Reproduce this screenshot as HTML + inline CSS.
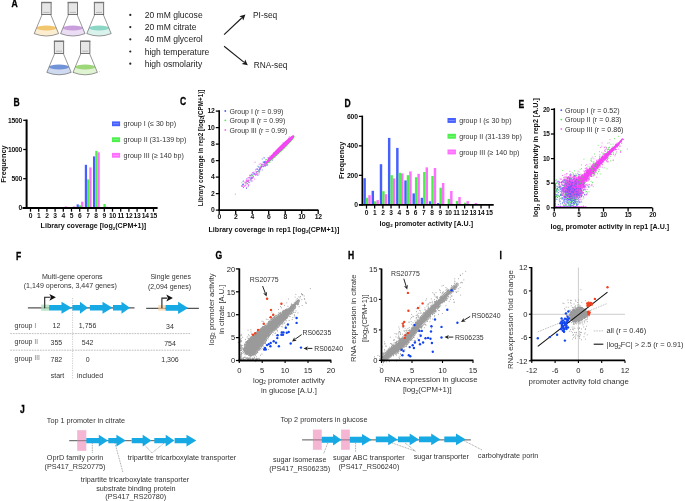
<!DOCTYPE html>
<html><head><meta charset="utf-8"><style>
html,body{margin:0;padding:0;background:#fff;}
svg{display:block;will-change:transform;}
text{font-family:"Liberation Sans",sans-serif;}
</style></head><body>
<svg width="685" height="501" viewBox="0 0 685 501">
<rect width="685" height="501" fill="#fff"/>
<text transform="translate(11.60,6.60) scale(0.84,1)" font-size="10.2" font-weight="bold" fill="#000" stroke="#000" stroke-width="0.3">A</text>
<path d="M36.49,28.10 L34.20,33.60 Q46.40,38.40 58.60,33.60 L56.31,28.10 Z" fill="#FCEDD0"/>
<ellipse cx="46.40" cy="28.10" rx="9.91" ry="2.5" fill="#F2C66E"/>
<path d="M42.10,14.60 L34.20,33.60 Q46.40,38.40 58.60,33.60 L50.70,14.60" fill="none" stroke="#444" stroke-width="0.55"/>
<rect x="41.70" y="2.40" width="9.40" height="12.20" fill="#E6E6E6" stroke="#555" stroke-width="0.8"/>
<rect x="41.30" y="1.80" width="10.20" height="1.4" fill="#777"/>
<line x1="43.40" y1="12.40" x2="49.40" y2="12.40" stroke="#888" stroke-width="0.5" />
<path d="M62.89,28.10 L60.60,33.60 Q72.80,38.40 85.00,33.60 L82.71,28.10 Z" fill="#EBDDF3"/>
<ellipse cx="72.80" cy="28.10" rx="9.91" ry="2.5" fill="#C89FDA"/>
<path d="M68.50,14.60 L60.60,33.60 Q72.80,38.40 85.00,33.60 L77.10,14.60" fill="none" stroke="#444" stroke-width="0.55"/>
<rect x="68.10" y="2.40" width="9.40" height="12.20" fill="#E6E6E6" stroke="#555" stroke-width="0.8"/>
<rect x="67.70" y="1.80" width="10.20" height="1.4" fill="#777"/>
<line x1="69.80" y1="12.40" x2="75.80" y2="12.40" stroke="#888" stroke-width="0.5" />
<path d="M89.09,28.10 L86.80,33.60 Q99.00,38.40 111.20,33.60 L108.91,28.10 Z" fill="#D9F2EC"/>
<ellipse cx="99.00" cy="28.10" rx="9.91" ry="2.5" fill="#8CD6C6"/>
<path d="M94.70,14.60 L86.80,33.60 Q99.00,38.40 111.20,33.60 L103.30,14.60" fill="none" stroke="#444" stroke-width="0.55"/>
<rect x="94.30" y="2.40" width="9.40" height="12.20" fill="#E6E6E6" stroke="#555" stroke-width="0.8"/>
<rect x="93.90" y="1.80" width="10.20" height="1.4" fill="#777"/>
<line x1="96.00" y1="12.40" x2="102.00" y2="12.40" stroke="#888" stroke-width="0.5" />
<path d="M49.09,66.90 L46.80,72.40 Q59.00,77.20 71.20,72.40 L68.91,66.90 Z" fill="#CFDAF1"/>
<ellipse cx="59.00" cy="66.90" rx="9.91" ry="2.5" fill="#7092D6"/>
<path d="M54.70,53.40 L46.80,72.40 Q59.00,77.20 71.20,72.40 L63.30,53.40" fill="none" stroke="#444" stroke-width="0.55"/>
<rect x="54.30" y="41.20" width="9.40" height="12.20" fill="#E6E6E6" stroke="#555" stroke-width="0.8"/>
<rect x="53.90" y="40.60" width="10.20" height="1.4" fill="#777"/>
<line x1="56.00" y1="51.20" x2="62.00" y2="51.20" stroke="#888" stroke-width="0.5" />
<path d="M75.29,66.90 L73.00,72.40 Q85.20,77.20 97.40,72.40 L95.11,66.90 Z" fill="#E0F3D3"/>
<ellipse cx="85.20" cy="66.90" rx="9.91" ry="2.5" fill="#9DD779"/>
<path d="M80.90,53.40 L73.00,72.40 Q85.20,77.20 97.40,72.40 L89.50,53.40" fill="none" stroke="#444" stroke-width="0.55"/>
<rect x="80.50" y="41.20" width="9.40" height="12.20" fill="#E6E6E6" stroke="#555" stroke-width="0.8"/>
<rect x="80.10" y="40.60" width="10.20" height="1.4" fill="#777"/>
<line x1="82.20" y1="51.20" x2="88.20" y2="51.20" stroke="#888" stroke-width="0.5" />
<circle cx="130.3" cy="14.90" r="1.1" fill="#222"/>
<text x="144.70" y="17.90" font-size="8.55" text-anchor="start" fill="#222" >20 mM glucose</text>
<circle cx="130.3" cy="27.10" r="1.1" fill="#222"/>
<text x="144.70" y="30.10" font-size="8.55" text-anchor="start" fill="#222" >20 mM citrate</text>
<circle cx="130.3" cy="39.30" r="1.1" fill="#222"/>
<text x="144.70" y="42.30" font-size="8.55" text-anchor="start" fill="#222" >40 mM glycerol</text>
<circle cx="130.3" cy="51.50" r="1.1" fill="#222"/>
<text x="144.70" y="54.50" font-size="8.55" text-anchor="start" fill="#222" >high temperature</text>
<circle cx="130.3" cy="63.70" r="1.1" fill="#222"/>
<text x="144.70" y="66.70" font-size="8.55" text-anchor="start" fill="#222" >high osmolarity</text>
<line x1="224.10" y1="34.60" x2="241.69" y2="18.00" stroke="#1a1a1a" stroke-width="1.15" />
<path d="M245.40,14.50 L243.25,20.38 L242.05,17.66 L239.41,16.31 Z" fill="#1a1a1a"/>
<line x1="224.10" y1="46.20" x2="243.83" y2="62.10" stroke="#1a1a1a" stroke-width="1.15" />
<path d="M247.80,65.30 L241.68,63.97 L244.22,62.41 L245.20,59.61 Z" fill="#1a1a1a"/>
<text x="253.00" y="18.30" font-size="8.4" text-anchor="start" fill="#222" >PI-seq</text>
<circle cx="99.4" cy="71.8" r="0.45" fill="#c9a"/>
<text x="253.80" y="67.50" font-size="8.3" text-anchor="start" fill="#222" >RNA-seq</text>
<text transform="translate(13.60,105.60) scale(0.84,1)" font-size="10.2" font-weight="bold" fill="#000" stroke="#000" stroke-width="0.3">B</text>
<rect x="64.70" y="206.44" width="2.25" height="1.46" fill="#FF6EFF" />
<rect x="68.40" y="207.61" width="2.25" height="0.29" fill="#465FFF" />
<rect x="72.90" y="206.44" width="2.25" height="1.46" fill="#FF6EFF" />
<rect x="76.60" y="204.40" width="2.25" height="3.50" fill="#465FFF" />
<rect x="78.85" y="205.33" width="2.25" height="2.57" fill="#4BF04B" />
<rect x="81.10" y="201.71" width="2.25" height="6.19" fill="#FF6EFF" />
<rect x="84.80" y="164.80" width="2.25" height="43.10" fill="#465FFF" />
<rect x="87.05" y="179.40" width="2.25" height="28.50" fill="#4BF04B" />
<rect x="89.30" y="167.43" width="2.25" height="40.47" fill="#FF6EFF" />
<rect x="93.00" y="156.39" width="2.25" height="51.51" fill="#465FFF" />
<rect x="95.25" y="150.90" width="2.25" height="57.00" fill="#4BF04B" />
<rect x="97.50" y="152.30" width="2.25" height="55.60" fill="#FF6EFF" />
<rect x="101.20" y="207.02" width="2.25" height="0.88" fill="#465FFF" />
<rect x="103.45" y="203.99" width="2.25" height="3.91" fill="#4BF04B" />
<rect x="105.70" y="206.73" width="2.25" height="1.17" fill="#FF6EFF" />
<line x1="26.60" y1="119.50" x2="26.60" y2="208.70" stroke="#000" stroke-width="2.0" />
<line x1="23.20" y1="207.90" x2="26.60" y2="207.90" stroke="#000" stroke-width="1.25" />
<text x="22.00" y="210.10" font-size="6.7" text-anchor="end" fill="#111" font-weight="bold" letter-spacing="-0.25">0</text>
<line x1="23.20" y1="178.70" x2="26.60" y2="178.70" stroke="#000" stroke-width="1.25" />
<text x="22.00" y="180.90" font-size="6.7" text-anchor="end" fill="#111" font-weight="bold" letter-spacing="-0.25">500</text>
<line x1="23.20" y1="149.50" x2="26.60" y2="149.50" stroke="#000" stroke-width="1.25" />
<text x="22.00" y="151.70" font-size="6.7" text-anchor="end" fill="#111" font-weight="bold" letter-spacing="-0.25">1000</text>
<line x1="23.20" y1="120.30" x2="26.60" y2="120.30" stroke="#000" stroke-width="1.25" />
<text x="22.00" y="122.50" font-size="6.7" text-anchor="end" fill="#111" font-weight="bold" letter-spacing="-0.25">1500</text>
<line x1="22.50" y1="207.90" x2="157.60" y2="207.90" stroke="#000" stroke-width="2.0" />
<line x1="30.50" y1="207.90" x2="30.50" y2="211.70" stroke="#000" stroke-width="1.25" />
<text x="30.50" y="217.90" font-size="6.7" text-anchor="middle" fill="#111" font-weight="bold" letter-spacing="-0.25">0</text>
<line x1="38.70" y1="207.90" x2="38.70" y2="211.70" stroke="#000" stroke-width="1.25" />
<text x="38.70" y="217.90" font-size="6.7" text-anchor="middle" fill="#111" font-weight="bold" letter-spacing="-0.25">1</text>
<line x1="46.90" y1="207.90" x2="46.90" y2="211.70" stroke="#000" stroke-width="1.25" />
<text x="46.90" y="217.90" font-size="6.7" text-anchor="middle" fill="#111" font-weight="bold" letter-spacing="-0.25">2</text>
<line x1="55.10" y1="207.90" x2="55.10" y2="211.70" stroke="#000" stroke-width="1.25" />
<text x="55.10" y="217.90" font-size="6.7" text-anchor="middle" fill="#111" font-weight="bold" letter-spacing="-0.25">3</text>
<line x1="63.30" y1="207.90" x2="63.30" y2="211.70" stroke="#000" stroke-width="1.25" />
<text x="63.30" y="217.90" font-size="6.7" text-anchor="middle" fill="#111" font-weight="bold" letter-spacing="-0.25">4</text>
<line x1="71.50" y1="207.90" x2="71.50" y2="211.70" stroke="#000" stroke-width="1.25" />
<text x="71.50" y="217.90" font-size="6.7" text-anchor="middle" fill="#111" font-weight="bold" letter-spacing="-0.25">5</text>
<line x1="79.70" y1="207.90" x2="79.70" y2="211.70" stroke="#000" stroke-width="1.25" />
<text x="79.70" y="217.90" font-size="6.7" text-anchor="middle" fill="#111" font-weight="bold" letter-spacing="-0.25">6</text>
<line x1="87.90" y1="207.90" x2="87.90" y2="211.70" stroke="#000" stroke-width="1.25" />
<text x="87.90" y="217.90" font-size="6.7" text-anchor="middle" fill="#111" font-weight="bold" letter-spacing="-0.25">7</text>
<line x1="96.10" y1="207.90" x2="96.10" y2="211.70" stroke="#000" stroke-width="1.25" />
<text x="96.10" y="217.90" font-size="6.7" text-anchor="middle" fill="#111" font-weight="bold" letter-spacing="-0.25">8</text>
<line x1="104.30" y1="207.90" x2="104.30" y2="211.70" stroke="#000" stroke-width="1.25" />
<text x="104.30" y="217.90" font-size="6.7" text-anchor="middle" fill="#111" font-weight="bold" letter-spacing="-0.25">9</text>
<line x1="112.50" y1="207.90" x2="112.50" y2="211.70" stroke="#000" stroke-width="1.25" />
<text x="112.50" y="217.90" font-size="6.7" text-anchor="middle" fill="#111" font-weight="bold" letter-spacing="-0.25">10</text>
<line x1="120.70" y1="207.90" x2="120.70" y2="211.70" stroke="#000" stroke-width="1.25" />
<text x="120.70" y="217.90" font-size="6.7" text-anchor="middle" fill="#111" font-weight="bold" letter-spacing="-0.25">11</text>
<line x1="128.90" y1="207.90" x2="128.90" y2="211.70" stroke="#000" stroke-width="1.25" />
<text x="128.90" y="217.90" font-size="6.7" text-anchor="middle" fill="#111" font-weight="bold" letter-spacing="-0.25">12</text>
<line x1="137.10" y1="207.90" x2="137.10" y2="211.70" stroke="#000" stroke-width="1.25" />
<text x="137.10" y="217.90" font-size="6.7" text-anchor="middle" fill="#111" font-weight="bold" letter-spacing="-0.25">13</text>
<line x1="145.30" y1="207.90" x2="145.30" y2="211.70" stroke="#000" stroke-width="1.25" />
<text x="145.30" y="217.90" font-size="6.7" text-anchor="middle" fill="#111" font-weight="bold" letter-spacing="-0.25">14</text>
<line x1="153.50" y1="207.90" x2="153.50" y2="211.70" stroke="#000" stroke-width="1.25" />
<text x="153.50" y="217.90" font-size="6.7" text-anchor="middle" fill="#111" font-weight="bold" letter-spacing="-0.25">15</text>
<text transform="translate(3.60,164.00) rotate(-90)" x="0" y="2.59" font-size="7.4" text-anchor="middle" fill="#111" font-weight="bold">Frequency</text>
<text x="93.4" y="228.3" font-size="7.1" font-weight="bold" text-anchor="middle" fill="#111">Library coverage [log<tspan font-size="62%" dy="1.8">2</tspan><tspan dy="-1.8">(CPM+1)]</tspan></text>
<rect x="112.00" y="121.40" width="8.10" height="4.80" fill="#465FFF" />
<rect x="113.20" y="123.40" width="5.70" height="0.80" fill="#fff" opacity="0.35"/>
<text x="123.60" y="126.30" font-size="7.1" text-anchor="start" fill="#333" >group I (&#8804; 30 bp)</text>
<rect x="112.00" y="137.30" width="8.10" height="4.80" fill="#4BF04B" />
<rect x="113.20" y="139.30" width="5.70" height="0.80" fill="#fff" opacity="0.35"/>
<text x="123.60" y="142.20" font-size="7.1" text-anchor="start" fill="#333" >group II (31-139 bp)</text>
<rect x="112.00" y="152.90" width="8.10" height="4.80" fill="#FF6EFF" />
<rect x="113.20" y="154.90" width="5.70" height="0.80" fill="#fff" opacity="0.35"/>
<text x="123.60" y="157.80" font-size="7.1" text-anchor="start" fill="#333" >group III (&#8805; 140 bp)</text>
<text transform="translate(179.90,105.30) scale(0.84,1)" font-size="10.2" font-weight="bold" fill="#000" stroke="#000" stroke-width="0.3">C</text>
<path transform="scale(.1)" d="M2604 1687h1m40-108h1m-6 60h1m-151 165h1m19-19h1m147-187h1m-241 264h1m231-242h1m-2 9h1m-81 119h1m-69 24h1m-1 17h1m6 19h1m30-74h1m25-11h1m17-11h1m131-129h1m-75 42h1m-44 66h1m124-89h1m-256 186h1m3 47h1m126-140h1m-173 154h1m36 36h1" stroke="#4A63F5" stroke-width="8.4" stroke-linecap="round" fill="none" opacity="1.0"/>
<path transform="scale(.1)" d="M2682 1591h1m15 33h1m-107 90h1m-128 114h1m30-5h1m186-225h1m-91 126h1m-118 94h1m211-196h1m-98 46h1m-1 42h1m-79 30h1" stroke="#45E845" stroke-width="8.4" stroke-linecap="round" fill="none" opacity="1.0"/>
<path transform="scale(.1)" d="M2462 1819h1m227-219h1m-277 258h1m213-213h1m7-25h1m-153 227h1m55-100h1m131-100h1m-246 219h1m166-186h1m51-43h1m-80 78h1m63-54h1m-149 139h1m-7 9h1m37-62h1m-49 61h1m78-17h1m139-203h1m-118 103h1m-41 85h1m-7 34h1m155-234h1m-129 163h1m149-160h1m-149 120h1m33 30h1m92-118h1m-36 45h1m-70 37h1" stroke="#F545F5" stroke-width="8.4" stroke-linecap="round" fill="none" opacity="1.0"/>
<path transform="scale(.1)" d="M2574 1691h1m-143 159h1m209-224h1m41-45h1m-17 45h1m-237 219h1m93-68h1m-8 6h1m-39 80h1m104-192h1m81-20h1m-154 127h1m157-157h1m-44 0h1m-175 206h1m194-169h1m29-44h1m-206 200h1m107-113h1m37-1h1m-30-6h1m-164 120h1m180-144h1m-34-8h1m43-72h1" stroke="#4A63F5" stroke-width="8.4" stroke-linecap="round" fill="none" opacity="1.0"/>
<path transform="scale(.1)" d="M2617 1668h1m-91 90h1m-110 70h1m172-88h1m59-76h1m-156 163h1m14-25h1m67-85h1m60-60h1m33-49h1m-219 223h1m24-14h1" stroke="#45E845" stroke-width="8.4" stroke-linecap="round" fill="none" opacity="1.0"/>
<path transform="scale(.1)" d="M2691 1608h1m-157 157h1m-50 90h1m150-207h1m67-72h1m-248 234h1m171-145h1m46-14h1m18-35h1m-251 206h1m-9 11h1m258-255h1m-237 262h1m5-24h1m128-109h1m-37 38h1m79-96h1m-165 165h1m215-205h1m-209 197h1m165-152h1m-186 220h1m96-133h1m-136 120h1m67-103h1m21 27h1m89-148h1m-68 84h1m-98 144h1m272-273h1" stroke="#F545F5" stroke-width="8.4" stroke-linecap="round" fill="none" opacity="1.0"/>
<path transform="scale(.1)" d="M2668 1652h1m-158 141h1m129-168h1m-27 36h1m-13 17h1m93-83h1m-153 143h1m-17 2h1m89-74h1m24-50h1m-139 141h1m104-81h1m-125 145h1m74-130h1m87-43h1m-224 195h1m188-196h1m-182 229h1m252-289h1m-110 167h1m-52-12h1m104-75h1m-60 49h1m46-67h1m-165 204h1" stroke="#4A63F5" stroke-width="8.4" stroke-linecap="round" fill="none" opacity="1.0"/>
<path transform="scale(.1)" d="M2696 1562h1m-190 193h1m26-31h1m-1 48h1m62-59h1m92-129h1m-26 11h1m-140 162h1m-13 54h1m119-233h1m-64 156h1m35-76h1" stroke="#45E845" stroke-width="8.4" stroke-linecap="round" fill="none" opacity="1.0"/>
<path transform="scale(.1)" d="M2602 1687h1m-100 110h1m54-67h1m0-17h1m42-30h1m-140 116h1m228-210h1m-196 190h1m20 4h1m-39-2h1m-34 73h1m106-104h1m96-105h1m-30 14h1m-137 162h1m-51-12h1m82-26h1m130-132h1m-82 82h1m125-125h1m-88 64h1m-13 15h1m56-30h1m-6 2h1m-122 114h1m-46 3h1m75-25h1m19-7h1m-101 98h1m70-96h1" stroke="#F545F5" stroke-width="8.4" stroke-linecap="round" fill="none" opacity="1.0"/>
<path transform="scale(.1)" d="M2592 1642h1m-66 83h1m-56 77h1m77-180h1m-52 128h1m-8 26h1m109-106h1m-5 33h1m-87 70h1m-4-21h1m110-111h1m-105 118h1" stroke="#F545F5" stroke-width="9.0" stroke-linecap="round" fill="none" opacity="1.0"/>
<path transform="scale(.1)" d="M2353 1942h1" stroke="#45E845" stroke-width="10.0" stroke-linecap="round" fill="none" opacity="1.0"/>
<path d="M265.54,164.04 L269.05,160.95 L273.46,157.11 L277.87,153.27 L282.96,148.46 L287.09,144.34 L291.07,140.07 L293.60,136.83 L293.79,135.37 L294.57,136.14 L294.38,137.61 L291.85,140.85 L287.86,145.11 L283.74,149.24 L278.65,154.05 L274.24,157.89 L269.83,161.73 L266.32,164.82 Z" fill="#45E845"/>
<path d="M264.76,163.26 L267.64,159.54 L271.34,154.99 L275.25,150.65 L280.20,145.70 L284.47,141.72 L288.88,137.88 L292.19,135.41 L293.65,135.23 L294.15,135.72 L293.96,137.18 L291.42,140.42 L287.44,144.69 L283.31,148.81 L278.22,153.62 L273.81,157.46 L269.41,161.31 L265.89,164.39 Z" fill="#F545F5"/>
<path transform="scale(.1)" d="M2722 1553h1m97-74h1m-42 54h1m109-112h1m-170 141h1m127-125h1m-25 42h1m16-40h1m-106 93h1m101-87h1m-6 9h1m-94 76h1m-105 93h1m255-254h1m-54 83h1m-150 128h1m147-139h1m-122 126h1m54-49h1m99-113h1m-108 118h1m-54 34h1m8-1h1m-68 57h1m53-23h1m5-23h1m-33 22h1m-28 33h1m109-109h1m-63 75h1m126-159h1m53-46h1m-173 181h1m100-61h1m-29 7h1m-126 110h1m18-8h1m215-197h1m-129 96h1m88-91h1" stroke="#F545F5" stroke-width="10.0" stroke-linecap="round" fill="none" opacity="1.0"/>
<line x1="219.20" y1="110.20" x2="219.20" y2="210.90" stroke="#000" stroke-width="1.6" />
<line x1="215.80" y1="210.10" x2="219.20" y2="210.10" stroke="#000" stroke-width="1.25" />
<text x="214.60" y="212.30" font-size="6.8" text-anchor="end" fill="#111" font-weight="bold" letter-spacing="-0.25">0</text>
<line x1="215.80" y1="193.60" x2="219.20" y2="193.60" stroke="#000" stroke-width="1.25" />
<text x="214.60" y="195.80" font-size="6.8" text-anchor="end" fill="#111" font-weight="bold" letter-spacing="-0.25">2</text>
<line x1="215.80" y1="177.10" x2="219.20" y2="177.10" stroke="#000" stroke-width="1.25" />
<text x="214.60" y="179.30" font-size="6.8" text-anchor="end" fill="#111" font-weight="bold" letter-spacing="-0.25">4</text>
<line x1="215.80" y1="160.60" x2="219.20" y2="160.60" stroke="#000" stroke-width="1.25" />
<text x="214.60" y="162.80" font-size="6.8" text-anchor="end" fill="#111" font-weight="bold" letter-spacing="-0.25">6</text>
<line x1="215.80" y1="144.10" x2="219.20" y2="144.10" stroke="#000" stroke-width="1.25" />
<text x="214.60" y="146.30" font-size="6.8" text-anchor="end" fill="#111" font-weight="bold" letter-spacing="-0.25">8</text>
<line x1="215.80" y1="127.60" x2="219.20" y2="127.60" stroke="#000" stroke-width="1.25" />
<text x="214.60" y="129.80" font-size="6.8" text-anchor="end" fill="#111" font-weight="bold" letter-spacing="-0.25">10</text>
<line x1="215.80" y1="111.10" x2="219.20" y2="111.10" stroke="#000" stroke-width="1.25" />
<text x="214.60" y="113.30" font-size="6.8" text-anchor="end" fill="#111" font-weight="bold" letter-spacing="-0.25">12</text>
<line x1="218.40" y1="210.10" x2="318.40" y2="210.10" stroke="#000" stroke-width="1.6" />
<line x1="219.20" y1="210.10" x2="219.20" y2="213.90" stroke="#000" stroke-width="1.25" />
<text x="219.20" y="219.20" font-size="6.8" text-anchor="middle" fill="#111" font-weight="bold" letter-spacing="-0.25">0</text>
<line x1="235.70" y1="210.10" x2="235.70" y2="213.90" stroke="#000" stroke-width="1.25" />
<text x="235.70" y="219.20" font-size="6.8" text-anchor="middle" fill="#111" font-weight="bold" letter-spacing="-0.25">2</text>
<line x1="252.20" y1="210.10" x2="252.20" y2="213.90" stroke="#000" stroke-width="1.25" />
<text x="252.20" y="219.20" font-size="6.8" text-anchor="middle" fill="#111" font-weight="bold" letter-spacing="-0.25">4</text>
<line x1="268.70" y1="210.10" x2="268.70" y2="213.90" stroke="#000" stroke-width="1.25" />
<text x="268.70" y="219.20" font-size="6.8" text-anchor="middle" fill="#111" font-weight="bold" letter-spacing="-0.25">6</text>
<line x1="285.20" y1="210.10" x2="285.20" y2="213.90" stroke="#000" stroke-width="1.25" />
<text x="285.20" y="219.20" font-size="6.8" text-anchor="middle" fill="#111" font-weight="bold" letter-spacing="-0.25">8</text>
<line x1="301.70" y1="210.10" x2="301.70" y2="213.90" stroke="#000" stroke-width="1.25" />
<text x="301.70" y="219.20" font-size="6.8" text-anchor="middle" fill="#111" font-weight="bold" letter-spacing="-0.25">10</text>
<line x1="318.20" y1="210.10" x2="318.20" y2="213.90" stroke="#000" stroke-width="1.25" />
<text x="318.20" y="219.20" font-size="6.8" text-anchor="middle" fill="#111" font-weight="bold" letter-spacing="-0.25">12</text>
<text x="273.9" y="231.5" font-size="7.1" font-weight="bold" text-anchor="middle" fill="#111">Library coverage in rep1 [log<tspan font-size="62%" dy="1.8">2</tspan><tspan dy="-1.8">(CPM+1)]</tspan></text>
<text transform="translate(199.9,147.9) rotate(-90)" x="0" y="2.6" font-size="7.5" font-weight="bold" text-anchor="middle" fill="#111" textLength="116.8" lengthAdjust="spacingAndGlyphs">Library coverage in rep2 [log<tspan font-size="62%" dy="1.8">2</tspan><tspan dy="-1.8">(CPM+1)]</tspan></text>
<circle cx="225.3" cy="111.00" r="0.9" fill="#465FFF"/>
<text x="229.5" y="113.50" font-size="7.0" fill="#333">Group I (r = 0.99)</text>
<circle cx="225.3" cy="120.30" r="0.9" fill="#4BF04B"/>
<text x="229.5" y="122.80" font-size="7.0" fill="#333">Group II (r = 0.99)</text>
<circle cx="225.3" cy="130.00" r="0.9" fill="#FF6EFF"/>
<text x="229.5" y="132.50" font-size="7.0" fill="#333">Group III (r = 0.99)</text>
<text transform="translate(344.60,106.60) scale(0.84,1)" font-size="10.2" font-weight="bold" fill="#000" stroke="#000" stroke-width="0.3">D</text>
<rect x="363.40" y="178.20" width="2.45" height="26.60" fill="#465FFF" />
<rect x="365.85" y="197.80" width="2.45" height="7.00" fill="#4BF04B" />
<rect x="368.30" y="195.20" width="2.45" height="9.60" fill="#FF6EFF" />
<rect x="371.58" y="190.80" width="2.45" height="14.00" fill="#465FFF" />
<rect x="374.03" y="201.30" width="2.45" height="3.50" fill="#4BF04B" />
<rect x="376.48" y="200.10" width="2.45" height="4.70" fill="#FF6EFF" />
<rect x="379.76" y="164.20" width="2.45" height="40.60" fill="#465FFF" />
<rect x="382.21" y="191.20" width="2.45" height="13.60" fill="#4BF04B" />
<rect x="384.66" y="194.20" width="2.45" height="10.60" fill="#FF6EFF" />
<rect x="387.94" y="137.90" width="2.45" height="66.90" fill="#465FFF" />
<rect x="390.39" y="175.20" width="2.45" height="29.60" fill="#4BF04B" />
<rect x="392.84" y="178.40" width="2.45" height="26.40" fill="#FF6EFF" />
<rect x="396.12" y="147.90" width="2.45" height="56.90" fill="#465FFF" />
<rect x="398.57" y="172.80" width="2.45" height="32.00" fill="#4BF04B" />
<rect x="401.02" y="173.40" width="2.45" height="31.40" fill="#FF6EFF" />
<rect x="404.30" y="180.40" width="2.45" height="24.40" fill="#465FFF" />
<rect x="406.75" y="175.20" width="2.45" height="29.60" fill="#4BF04B" />
<rect x="409.20" y="171.40" width="2.45" height="33.40" fill="#FF6EFF" />
<rect x="412.48" y="193.40" width="2.45" height="11.40" fill="#465FFF" />
<rect x="414.93" y="177.20" width="2.45" height="27.60" fill="#4BF04B" />
<rect x="417.38" y="173.80" width="2.45" height="31.00" fill="#FF6EFF" />
<rect x="420.66" y="197.80" width="2.45" height="7.00" fill="#465FFF" />
<rect x="423.11" y="172.00" width="2.45" height="32.80" fill="#4BF04B" />
<rect x="425.56" y="167.40" width="2.45" height="37.40" fill="#FF6EFF" />
<rect x="428.84" y="201.30" width="2.45" height="3.50" fill="#465FFF" />
<rect x="431.29" y="176.00" width="2.45" height="28.80" fill="#4BF04B" />
<rect x="433.74" y="168.00" width="2.45" height="36.80" fill="#FF6EFF" />
<rect x="437.02" y="203.00" width="2.45" height="1.80" fill="#465FFF" />
<rect x="439.47" y="187.70" width="2.45" height="17.10" fill="#4BF04B" />
<rect x="441.92" y="183.00" width="2.45" height="21.80" fill="#FF6EFF" />
<rect x="447.65" y="198.90" width="2.45" height="5.90" fill="#4BF04B" />
<rect x="450.10" y="191.00" width="2.45" height="13.80" fill="#FF6EFF" />
<rect x="455.83" y="200.90" width="2.45" height="3.90" fill="#4BF04B" />
<rect x="458.28" y="197.00" width="2.45" height="7.80" fill="#FF6EFF" />
<rect x="464.01" y="202.70" width="2.45" height="2.10" fill="#4BF04B" />
<rect x="466.46" y="201.10" width="2.45" height="3.70" fill="#FF6EFF" />
<rect x="474.64" y="203.00" width="2.45" height="1.80" fill="#FF6EFF" />
<line x1="362.30" y1="115.60" x2="362.30" y2="205.60" stroke="#000" stroke-width="1.6" />
<line x1="358.90" y1="204.80" x2="362.30" y2="204.80" stroke="#000" stroke-width="1.25" />
<text x="357.70" y="207.00" font-size="6.8" text-anchor="end" fill="#111" font-weight="bold" letter-spacing="-0.25">0</text>
<line x1="358.90" y1="175.33" x2="362.30" y2="175.33" stroke="#000" stroke-width="1.25" />
<text x="357.70" y="177.53" font-size="6.8" text-anchor="end" fill="#111" font-weight="bold" letter-spacing="-0.25">200</text>
<line x1="358.90" y1="145.87" x2="362.30" y2="145.87" stroke="#000" stroke-width="1.25" />
<text x="357.70" y="148.07" font-size="6.8" text-anchor="end" fill="#111" font-weight="bold" letter-spacing="-0.25">400</text>
<line x1="358.90" y1="116.40" x2="362.30" y2="116.40" stroke="#000" stroke-width="1.25" />
<text x="357.70" y="118.60" font-size="6.8" text-anchor="end" fill="#111" font-weight="bold" letter-spacing="-0.25">600</text>
<line x1="359.00" y1="204.80" x2="493.70" y2="204.80" stroke="#000" stroke-width="1.8" />
<line x1="366.50" y1="204.80" x2="366.50" y2="208.60" stroke="#000" stroke-width="1.25" />
<text x="366.50" y="215.00" font-size="6.6" text-anchor="middle" fill="#111" font-weight="bold" letter-spacing="-0.25">0</text>
<line x1="374.68" y1="204.80" x2="374.68" y2="208.60" stroke="#000" stroke-width="1.25" />
<text x="374.68" y="215.00" font-size="6.6" text-anchor="middle" fill="#111" font-weight="bold" letter-spacing="-0.25">1</text>
<line x1="382.86" y1="204.80" x2="382.86" y2="208.60" stroke="#000" stroke-width="1.25" />
<text x="382.86" y="215.00" font-size="6.6" text-anchor="middle" fill="#111" font-weight="bold" letter-spacing="-0.25">2</text>
<line x1="391.04" y1="204.80" x2="391.04" y2="208.60" stroke="#000" stroke-width="1.25" />
<text x="391.04" y="215.00" font-size="6.6" text-anchor="middle" fill="#111" font-weight="bold" letter-spacing="-0.25">3</text>
<line x1="399.22" y1="204.80" x2="399.22" y2="208.60" stroke="#000" stroke-width="1.25" />
<text x="399.22" y="215.00" font-size="6.6" text-anchor="middle" fill="#111" font-weight="bold" letter-spacing="-0.25">4</text>
<line x1="407.40" y1="204.80" x2="407.40" y2="208.60" stroke="#000" stroke-width="1.25" />
<text x="407.40" y="215.00" font-size="6.6" text-anchor="middle" fill="#111" font-weight="bold" letter-spacing="-0.25">5</text>
<line x1="415.58" y1="204.80" x2="415.58" y2="208.60" stroke="#000" stroke-width="1.25" />
<text x="415.58" y="215.00" font-size="6.6" text-anchor="middle" fill="#111" font-weight="bold" letter-spacing="-0.25">6</text>
<line x1="423.76" y1="204.80" x2="423.76" y2="208.60" stroke="#000" stroke-width="1.25" />
<text x="423.76" y="215.00" font-size="6.6" text-anchor="middle" fill="#111" font-weight="bold" letter-spacing="-0.25">7</text>
<line x1="431.94" y1="204.80" x2="431.94" y2="208.60" stroke="#000" stroke-width="1.25" />
<text x="431.94" y="215.00" font-size="6.6" text-anchor="middle" fill="#111" font-weight="bold" letter-spacing="-0.25">8</text>
<line x1="440.12" y1="204.80" x2="440.12" y2="208.60" stroke="#000" stroke-width="1.25" />
<text x="440.12" y="215.00" font-size="6.6" text-anchor="middle" fill="#111" font-weight="bold" letter-spacing="-0.25">9</text>
<line x1="448.30" y1="204.80" x2="448.30" y2="208.60" stroke="#000" stroke-width="1.25" />
<text x="448.30" y="215.00" font-size="6.6" text-anchor="middle" fill="#111" font-weight="bold" letter-spacing="-0.25">10</text>
<line x1="456.48" y1="204.80" x2="456.48" y2="208.60" stroke="#000" stroke-width="1.25" />
<text x="456.48" y="215.00" font-size="6.6" text-anchor="middle" fill="#111" font-weight="bold" letter-spacing="-0.25">11</text>
<line x1="464.66" y1="204.80" x2="464.66" y2="208.60" stroke="#000" stroke-width="1.25" />
<text x="464.66" y="215.00" font-size="6.6" text-anchor="middle" fill="#111" font-weight="bold" letter-spacing="-0.25">12</text>
<line x1="472.84" y1="204.80" x2="472.84" y2="208.60" stroke="#000" stroke-width="1.25" />
<text x="472.84" y="215.00" font-size="6.6" text-anchor="middle" fill="#111" font-weight="bold" letter-spacing="-0.25">13</text>
<line x1="481.02" y1="204.80" x2="481.02" y2="208.60" stroke="#000" stroke-width="1.25" />
<text x="481.02" y="215.00" font-size="6.6" text-anchor="middle" fill="#111" font-weight="bold" letter-spacing="-0.25">14</text>
<line x1="489.20" y1="204.80" x2="489.20" y2="208.60" stroke="#000" stroke-width="1.25" />
<text x="489.20" y="215.00" font-size="6.6" text-anchor="middle" fill="#111" font-weight="bold" letter-spacing="-0.25">15</text>
<text transform="translate(341.40,160.30) rotate(-90)" x="0" y="2.59" font-size="7.4" text-anchor="middle" fill="#111" font-weight="bold">Frequency</text>
<text x="426.3" y="225.6" font-size="7.1" font-weight="bold" text-anchor="middle" fill="#111">log<tspan font-size="62%" dy="1.8">2</tspan><tspan dy="-1.8"> promoter activity [A.U.]</tspan></text>
<rect x="447.50" y="118.00" width="8.40" height="4.90" fill="#465FFF" />
<rect x="448.70" y="120.05" width="6.00" height="0.80" fill="#fff" opacity="0.35"/>
<text x="459.20" y="123.00" font-size="7.1" text-anchor="start" fill="#333" >group I (&#8804; 30 bp)</text>
<rect x="447.50" y="133.80" width="8.40" height="4.90" fill="#4BF04B" />
<rect x="448.70" y="135.85" width="6.00" height="0.80" fill="#fff" opacity="0.35"/>
<text x="459.20" y="138.80" font-size="7.1" text-anchor="start" fill="#333" >group II (31-139 bp)</text>
<rect x="447.50" y="149.50" width="8.40" height="4.90" fill="#FF6EFF" />
<rect x="448.70" y="151.55" width="6.00" height="0.80" fill="#fff" opacity="0.35"/>
<text x="459.20" y="154.50" font-size="7.1" text-anchor="start" fill="#333" >group III (&#8805; 140 bp)</text>
<text transform="translate(518.60,107.80) scale(0.84,1)" font-size="10.2" font-weight="bold" fill="#000" stroke="#000" stroke-width="0.3">E</text>
<path transform="scale(.1)" d="M5776 1918h1m-40-23h1m9 32h1m-65-21h1m130 59h1m-12-42h1m-63-157h1m5 139h1m-147 10h1m143-46h1m-46-10h1m33 108h1m12-54h1m-56-66h1m-74 38h1m110 9h1m-61-85h1m21 132h1m-15-45h1m13 36h1m-108-119h1m190 203h1m-53-76h1m45-8h1m46-70h1m-106 3h1m-100-46h1m48 175h1m-18-137h1m37 61h1m31 22h1m-114-71h1m126 86h1m-101 69h1m96-101h1m-23 66h1m-12-50h1m12-60h1m-26 3h1m-5-75h1m-59 106h1m89 78h1m100-45h1m6 9h1m-36 18h1m-35-98h1m-75 64h1m113 79h1m-82-158h1m-1 47h1" stroke="#4A63F5" stroke-width="8.4" stroke-linecap="round" fill="none" opacity="1.0"/>
<path transform="scale(.1)" d="M5748 1947h1m-17-30h1m32 103h1m-39-41h1m76-66h1m-53-36h1m-3 21h1m0 102h1m-120-84h1m82-81h1m-8 16h1m29 40h1m-101 52h1m191-97h1m-99 77h1m-85 38h1m-33-24h1m90-144h1m11 79h1m-41-60h1m51 105h1m-48-91h1m75 99h1m-82-29h1m43-169h1m64 110h1m101 81h1m-230-26h1m33-27h1m-25-56h1m103 108h1m-124 80h1m41-93h1m28-19h1m-62-6h1" stroke="#45E845" stroke-width="8.4" stroke-linecap="round" fill="none" opacity="1.0"/>
<path transform="scale(.1)" d="M5798 1889h1m-53-4h1m25-13h1m-100 51h1m101-100h1m62 74h1m-69-45h1m-28 67h1m-6-61h1m83-2h1m-141 42h1m41-126h1m29 85h1m13-73h1m-62 43h1m38 83h1m-31-14h1m19-42h1m-14 19h1m-53 1h1m57 17h1m45 79h1m-96-82h1m37 103h1m45-134h1m-90 57h1m63-1h1m-65-25h1m113-26h1m59 88h1m-16 17h1m-116-36h1m48 51h1m-33-56h1m-2-132h1m74 137h1m-149-88h1m121 104h1m-58-86h1m75 32h1m-64-14h1m-46-32h1m48-61h1m23 80h1m-37 4h1m22 57h1m-53-81h1m-84 43h1m155-56h1m-11 46h1m-29-93h1m-6 193h1m49-87h1m-78-61h1m-14 63h1m26 23h1m70-27h1m-134 58h1m133-78h1m-96-120h1m-25 67h1m121 117h1m-71-13h1m-63-24h1m47-73h1m66 95h1m13-7h1m-85-81h1m42 1h1m15 64h1m-71 38h1m50 22h1m-21-44h1m-27 80h1m2-154h1m27 71h1m-2-58h1m-32-71h1m6 36h1m78 120h1m-47-105h1m34-15h1m15 99h1m-33 11h1m86-44h1m-161 77h1m84-159h1m-59 201h1m111-68h1m-9-43h1m-190-2h1m50-20h1m83-6h1m6 25h1m-4-69h1m-43 169h1m26-111h1m10 37h1m-39-44h1m56-4h1m-171 58h1m149-14h1m-87-74h1m101 23h1m-62 53h1m-35-140h1m64-14h1m-67 195h1m-1-91h1m-35-114h1m79 89h1m26 29h1m26 22h1m-61 17h1m60-17h1m-54 18h1m-7-67h1m34 59h1m24 2h1m-74 39h1" stroke="#F545F5" stroke-width="8.4" stroke-linecap="round" fill="none" opacity="1.0"/>
<path transform="scale(.1)" d="M5708 1930h1m-47 19h1m37 49h1m66-42h1m-38-87h1m7 29h1m-9 63h1m-18-38h1m-11-24h1m-10-28h1m56 65h1m-100-20h1m130 92h1m-72-39h1m-43-164h1m13 225h1m-11-109h1m44-33h1m-49 35h1m100 26h1m-105-45h1m-82-3h1m83 5h1m-70 106h1m105-102h1m59 41h1m-24-18h1m-108-46h1m30-24h1m137-15h1m-80 82h1m-18-84h1m55-14h1m75 2h1m-64-15h1m-63 90h1m10 2h1m14-59h1m-68 130h1m-25-93h1m59 43h1m-55-9h1m47 81h1m7-51h1m121-51h1m-174-54h1m39-6h1m-4 64h1m32 6h1m32 38h1" stroke="#4A63F5" stroke-width="8.4" stroke-linecap="round" fill="none" opacity="1.0"/>
<path transform="scale(.1)" d="M5751 1818h1m-43 46h1m54 179h1m72-114h1m-115-14h1m-95 34h1m40-76h1m-39-63h1m15 107h1m160 42h1m-70-203h1m-113 159h1m138 50h1m38-94h1m-105-12h1m-21 72h1m20-95h1m39 81h1m22 28h1m34-70h1m1-38h1m-3 90h1m10-62h1m-46 27h1m-141-187h1m89 226h1m27-133h1m-45 91h1m81 5h1m-82-54h1m-37-11h1m150-24h1m-50 60h1m-30 60h1m44-4h1" stroke="#45E845" stroke-width="8.4" stroke-linecap="round" fill="none" opacity="1.0"/>
<path transform="scale(.1)" d="M5756 1990h1m3-26h1m41-92h1m-51 55h1m32-42h1m22-3h1m-71-105h1m-86 32h1m15 70h1m-14-65h1m155 103h1m-127-23h1m107-65h1m-35 111h1m58-49h1m-38 54h1m-58-75h1m-6-78h1m13 123h1m4-50h1m-37 58h1m24 13h1m84 4h1m-172-139h1m100-47h1m-61 97h1m56 62h1m32-73h1m-47 54h1m42-59h1m-123 26h1m138 1h1m-89-17h1m62 61h1m-24-9h1m-144 68h1m94-66h1m49 51h1m68-66h1m-66 42h1m-3-55h1m-87-18h1m146 97h1m18-32h1m-93 7h1m-13-87h1m-74-50h1m129 44h1m93 62h1m-104-93h1m27 153h1m-38-155h1m-80 111h1m119 110h1m-134-281h1m52 56h1m24 135h1m31-62h1m-26 19h1m-2-16h1m-60 82h1m-29-42h1m69-59h1m-41 13h1m-32-51h1m2 58h1m39-117h1m-72 158h1m25-50h1m-16 112h1m93-34h1m11-133h1m82 117h1m-182-76h1m41 30h1m81 51h1m-59-36h1m-7 9h1m104-2h1m-107-64h1m-43 6h1m-9 63h1m84 17h1m-2-61h1m-88 19h1m19-58h1m78-84h1m1 94h1m-64 45h1m64 7h1m-3 36h1m-123 2h1m75 5h1m36-31h1m-52 1h1m-82-60h1m95 59h1m53-11h1m42 53h1m-196-148h1m247 59h1m-194-66h1m106 51h1m14-36h1m-14 90h1m-44-50h1m-69-102h1m91 202h1m-70-123h1m-94-27h1m275 66h1m-110-18h1m56-27h1m-142 101h1m122-56h1m5 67h1m-3-10h1m-82-3h1m-62-25h1m52-15h1" stroke="#F545F5" stroke-width="8.4" stroke-linecap="round" fill="none" opacity="1.0"/>
<path transform="scale(.1)" d="M5735 1900h1m-104 70h1m187-40h1m-47-73h1m-24 5h1m-62 47h1m14 32h1m35-42h1m-9 103h1m-117-22h1m133-128h1m120 78h1m-265-52h1m156-51h1m-35 34h1m-28 39h1m81-128h1m-142 88h1m73 62h1m72-66h1m-94 20h1m-13 77h1m29-57h1m-32 15h1m109 109h1m-137-109h1m98 7h1m-119 9h1m105 74h1m-44-79h1m-138-19h1m142-8h1m-60 75h1m34-108h1m109 113h1m-149-61h1m2-92h1m138 121h1m-74-11h1m78-96h1m-69 88h1m-68-5h1m45-32h1m71-50h1m-17 198h1m-54-84h1m2 11h1m-10 5h1m-27-14h1m139-1h1" stroke="#4A63F5" stroke-width="8.4" stroke-linecap="round" fill="none" opacity="1.0"/>
<path transform="scale(.1)" d="M5745 1891h1m-79 11h1m65 122h1m17-194h1m-75 81h1m56 3h1m97-12h1m-87-1h1m-64-41h1m37 107h1m-57-21h1m77-78h1m37 9h1m-111 33h1m39 13h1m86 16h1m-106-49h1m43-79h1m-80 143h1m13-165h1m19 43h1m171 83h1m-166-79h1m-9 144h1m-3 17h1m24-28h1m52-57h1m-31-5h1m119 12h1m-119-39h1m78 143h1m-76-169h1m20 123h1m-132-49h1m83-15h1" stroke="#45E845" stroke-width="8.4" stroke-linecap="round" fill="none" opacity="1.0"/>
<path transform="scale(.1)" d="M5670 1916h1m-12-21h1m18-117h1m50 82h1m30 11h1m-2-111h1m-81 98h1m9 60h1m-8-80h1m70 99h1m-129-119h1m168-4h1m-90 92h1m-17 3h1m57-42h1m35 9h1m-36 51h1m35-80h1m-48 135h1m55-83h1m0-2h1m-70-7h1m78-30h1m-67 80h1m-5-94h1m-53 40h1m32 24h1m54 37h1m-109-10h1m101-79h1m-17 68h1m-5-53h1m-129-52h1m108 2h1m37-27h1m-73 96h1m43 40h1m-129-108h1m157 36h1m-70-42h1m78 58h1m-141-61h1m130 18h1m-49 6h1m53 11h1m-91 6h1m15 8h1m147 1h1m-160-40h1m5 78h1m22-116h1m-40 95h1m113-57h1m27 56h1m-126 8h1m-54-118h1m149 121h1m-5 50h1m-16-29h1m17-20h1m-106-128h1m35 101h1m-64-38h1m-2 100h1m123-70h1m-87-16h1m152-59h1m-115 129h1m-38-67h1m73 16h1m51 68h1m-69-52h1m-89 13h1m81 106h1m51-151h1m-98 3h1m-15 51h1m91 46h1m-46-145h1m-65 63h1m36-39h1m-20-21h1m53 100h1m-10-69h1m52 55h1m-23-9h1m-119 1h1m101-5h1m24-57h1m-23 51h1m28 14h1m-82 7h1m-22-32h1m96 64h1m-104-21h1m-58-23h1m164 27h1m-91-24h1m20 26h1m-57-135h1m2 35h1m8 45h1m40 26h1m37-116h1m-139 97h1m157 21h1m-101-20h1m5-1h1m89-57h1m-40 74h1m-76-109h1m173 154h1m-140-82h1m56 88h1m-4-146h1m62 111h1m-98-14h1m75-50h1m-91-18h1m95 123h1" stroke="#F545F5" stroke-width="8.4" stroke-linecap="round" fill="none" opacity="1.0"/>
<path transform="scale(.1)" d="M5692 1966h1m-58-65h1m82-42h1m-14 14h1m-15-80h1m-19 27h1m15 113h1m-20-27h1m68 71h1m52-91h1m-187 6h1m97-151h1m-17 154h1m48 129h1m-79-83h1m42-47h1m-49 81h1m93-23h1m-33-30h1m-15-41h1m27 30h1m-34 42h1m-72-99h1m116 79h1m-18-3h1m-25 52h1m61-35h1m11-85h1m-126 134h1m16-91h1m125-46h1m-8 64h1m-118-36h1m-25 80h1m29-143h1m6 12h1m-59 51h1m86 117h1m-72-41h1m3-120h1m114-43h1m-88 83h1m32-56h1m37 110h1m9-25h1m-63-11h1m20-25h1m-48 115h1m138-146h1m-61-22h1" stroke="#4A63F5" stroke-width="8.4" stroke-linecap="round" fill="none" opacity="1.0"/>
<path transform="scale(.1)" d="M5652 1962h1m-15-80h1m108 115h1m-65-118h1m-111 6h1m203 43h1m-43 23h1m-41 24h1m164-209h1m-127 206h1m-58-186h1m54 62h1m-74 61h1m16 51h1m73-141h1m-61-44h1m5 171h1m135-41h1m-53-86h1m-5 46h1m-18-107h1m-4 165h1m61-72h1m-95 115h1m119-214h1m-181 181h1m44 94h1m-73-133h1m65 1h1m54-131h1m59 144h1m-136-21h1m41-39h1m-24-63h1m-25 105h1" stroke="#45E845" stroke-width="8.4" stroke-linecap="round" fill="none" opacity="1.0"/>
<path transform="scale(.1)" d="M5784 1800h1m-28-41h1m-43 67h1m18-2h1m-4 125h1m-49-67h1m109 36h1m-136-11h1m131-81h1m-12 92h1m-55-35h1m-36 92h1m27-91h1m35-12h1m13 41h1m-24 0h1m35-134h1m-81 160h1m40-8h1m-94-13h1m119-104h1m-32-46h1m-31 91h1m81 54h1m-25-15h1m-183-77h1m147 102h1m-78-122h1m129 2h1m73 70h1m-157-30h1m30-5h1m-18-42h1m30 135h1m14-116h1m32 81h1m-118 20h1m131-45h1m-130 16h1m61 40h1m45 32h1m-24-34h1m-87-124h1m12-26h1m11 68h1m20-28h1m61 88h1m-127-23h1m90-18h1m6 70h1m-3-5h1m-6-56h1m53 22h1m-54 38h1m18-75h1m-16 34h1m63-66h1m-192 53h1m163 15h1m-81-22h1m-2 15h1m-36 26h1m-48-14h1m76-59h1m-17 5h1m60-33h1m-102 154h1m149-67h1m-61 1h1m-28-31h1m-25 33h1m-5 3h1m-18-67h1m29 31h1m27 70h1m-10-130h1m-65 18h1m58 81h1m-33-73h1m53 81h1m87-96h1m-65 70h1m-49 30h1m-69-22h1m10 20h1m-15-50h1m123 1h1m-78 7h1m42 31h1m-36 160h1m36-194h1m66 103h1m-108-110h1m16-46h1m-25 44h1m86 34h1m-99-10h1m-7-3h1m-14 22h1m-2 1h1m96 18h1m108-109h1m-185 62h1m99-50h1m-37 62h1m-71-16h1m42 12h1m1-33h1m-25-18h1m135 30h1m-200 47h1m118 6h1m-4-126h1m-48 100h1m37 0h1m36-90h1m-38 19h1m13 29h1m13 48h1m-142-142h1" stroke="#F545F5" stroke-width="8.4" stroke-linecap="round" fill="none" opacity="1.0"/>
<path transform="scale(.1)" d="M5732 1847h1m7 116h1m-40-102h1m-68 15h1m3 123h1m93-42h1m-2-26h1m-35 18h1m-51 22h1m-16-114h1m60 58h1m-63-37h1m127 48h1m13-43h1m89 62h1m-106-43h1m-81-35h1m-16 31h1m14 67h1m22-74h1m61-10h1m-21 35h1m-2 30h1m-21-77h1m23-115h1m42 165h1m-137-38h1m32-2h1m-52 173h1m162-158h1m-19 49h1m-30-124h1m-107 97h1m74 31h1m-23-33h1m16-23h1m-16 43h1m37-30h1m-50 77h1m67-67h1m-35-59h1m-30-70h1m9 74h1m-19 26h1m67-54h1m-59 10h1m29-38h1m-38 34h1m-60 71h1" stroke="#4A63F5" stroke-width="8.4" stroke-linecap="round" fill="none" opacity="1.0"/>
<path transform="scale(.1)" d="M5742 1924h1m-7-98h1m7 64h1m-7-5h1m-64 0h1m-86-44h1m91 75h1m-88-102h1m133 43h1m-5 19h1m-108 7h1m150-30h1m10-32h1m-50 5h1m100 36h1m12-32h1m-198 49h1m142-73h1m-39 82h1m-2 131h1m32-218h1m-107 78h1m7 82h1m-16-62h1m4 44h1m41-191h1m-88 102h1m25 132h1m103-135h1m-42 61h1m28-148h1m-147 189h1m70 77h1m14-148h1m36 26h1" stroke="#45E845" stroke-width="8.4" stroke-linecap="round" fill="none" opacity="1.0"/>
<path transform="scale(.1)" d="M5708 1767h1m-90 77h1m132 77h1m63-86h1m-186 85h1m158 33h1m-90-212h1m149 118h1m-100-20h1m-33 8h1m66-64h1m-31 79h1m-59-49h1m67 116h1m-64 19h1m-67-145h1m196-3h1m-124 50h1m-15 15h1m48 3h1m-99 44h1m10-115h1m43 45h1m-2 8h1m30 7h1m53-35h1m-84 28h1m49-12h1m5 99h1m-88-87h1m67-87h1m-62 140h1m103-20h1m-33-53h1m-23-3h1m-71 17h1m74 116h1m-47-110h1m75 87h1m-43-18h1m-37-71h1m89 44h1m-12-58h1m-69-120h1m90 122h1m-76 3h1m-2 84h1m21-14h1m-46 22h1m15-27h1m14 29h1m86-23h1m-3-23h1m-91 41h1m95 22h1m-86-3h1m21-94h1m25 20h1m-32-50h1m109-1h1m-113 72h1m-76-52h1m128 109h1m-89-193h1m4 57h1m-140 72h1m206 49h1m-11-79h1m-2 116h1m9-56h1m35-79h1m-90 34h1m49 30h1m-87-75h1m19 103h1m72-68h1m-36 40h1m-90 18h1m87-68h1m-29 76h1m-34-150h1m63 128h1m-44-133h1m-61 160h1m23-88h1m147 93h1m-170 8h1m88-78h1m19-27h1m1 101h1m-97-127h1m45 102h1m23-47h1m33-13h1m-75-11h1m-28 123h1m111-176h1m4 54h1m-39 51h1m-51 31h1m51 35h1m-16-17h1m36-99h1m-109 46h1m70 41h1m-15-31h1m-50-109h1m67 98h1m-10 13h1m-24-99h1m40 45h1m-94 22h1m69 34h1m24 48h1m-8-19h1m40-36h1m-119-13h1m-17-30h1m89-10h1m10 17h1" stroke="#F545F5" stroke-width="8.4" stroke-linecap="round" fill="none" opacity="1.0"/>
<path transform="scale(.1)" d="M5722 1948h1m-67-44h1m-63-64h1m87 100h1m-24 5h1m15-93h1m19-43h1m-53 160h1m6 85h1m54-67h1m11-26h1m-43-52h1m61-44h1m-40 45h1m-44 32h1m56-50h1m99 66h1m-139-54h1m98 35h1m11-196h1m5 110h1m-126 97h1m152 10h1m-103-33h1m-21 71h1m0-54h1m44 0h1m-31-95h1m-13 77h1m78 22h1m-110 32h1m-18-10h1m98-65h1m-6 9h1m20-80h1m-118 104h1m116-100h1m-34 48h1m69 15h1m-164 118h1m78-42h1m-28-120h1m-72-39h1m47 71h1m98-33h1m-87 69h1m-15-2h1m85 17h1m6-97h1m-1 38h1" stroke="#4A63F5" stroke-width="8.4" stroke-linecap="round" fill="none" opacity="1.0"/>
<path transform="scale(.1)" d="M5710 1933h1m-7-95h1m56 157h1m-16-69h1m-75-139h1m162 272h1m-95-129h1m-16-88h1m93 150h1m-30-272h1m-73 332h1m39-258h1m-103-7h1m26 41h1m-105 72h1m222-37h1m-200 81h1m164-110h1m-98 124h1m-11-54h1m50-82h1m28 135h1m21-48h1m73-33h1m-91 96h1m32-160h1m-95 52h1m83 119h1m-37-94h1m-41 47h1m23-8h1m1-47h1m15 51h1m13-108h1m-60 107h1" stroke="#45E845" stroke-width="8.4" stroke-linecap="round" fill="none" opacity="1.0"/>
<path transform="scale(.1)" d="M5781 1884h1m-54 53h1m45-142h1m-73 88h1m1 65h1m-35-129h1m89 96h1m17-65h1m60 27h1m-43-14h1m-55 4h1m-25 39h1m30-32h1m-22-103h1m76 221h1m-28-119h1m-93-19h1m6 77h1m106 16h1m-56-182h1m-29 130h1m72-126h1m-82 80h1m5 23h1m-11-20h1m-78-9h1m145-28h1m-109 39h1m33 15h1m-10-2h1m75-61h1m-43 28h1m4 94h1m-89-19h1m81-50h1m-72 49h1m91-12h1m2 30h1m-21-36h1m106-36h1m-80-29h1m3 51h1m-25-107h1m-18 111h1m59-169h1m6 114h1m-125 26h1m120 51h1m-28 120h1m22-138h1m-27-17h1m-89-90h1m2 171h1m154-170h1m-82 111h1m-87-50h1m90 168h1m-38-138h1m-77 25h1m-24-53h1m34 31h1m96 63h1m-18-108h1m-11 13h1m27 5h1m15-21h1m-141-5h1m92 58h1m-28 69h1m-22 2h1m35-141h1m21 33h1m-9 31h1m-62 28h1m49-24h1m128 0h1m-160 19h1m-33 18h1m100-148h1m16 100h1m-8 44h1m-83 36h1m109-30h1m-94-75h1m-19-2h1m27 51h1m24-14h1m42 18h1m-6 42h1m-34-125h1m48 48h1m-45-109h1m41 167h1m-120-32h1m-9-52h1m120 58h1m-113 59h1m55-23h1m10-54h1m-21-12h1m1 22h1m94-57h1m-204 1h1m176 35h1m72 15h1m-119 14h1m-3-41h1m37-19h1m56 44h1m-156-20h1m64 40h1m-15 56h1m38-21h1m-22-91h1m25 16h1m-57-59h1m23 79h1m-38-41h1m0-24h1m26 17h1" stroke="#F545F5" stroke-width="8.4" stroke-linecap="round" fill="none" opacity="1.0"/>
<path transform="scale(.1)" d="M5677 1880h1m22-53h1m16 21h1m-61 26h1m78 7h1m29-84h1m-83 74h1m132 35h1m-123 45h1m3-30h1m-3 42h1m-26-69h1m60-8h1m-23 136h1m88-122h1m-58-38h1m-5 29h1m-42 66h1m-65-131h1m70 116h1m-42 31h1m97-8h1m-54-63h1m90-59h1m-51-11h1m4 56h1m-33 83h1m-2-31h1m23 14h1m13-43h1m-89 95h1m64-112h1m114-31h1m-148 47h1m-10-36h1m-24 82h1m-42 31h1m142-49h1m-62-105h1m11 7h1m83 88h1m35-98h1m-185 90h1m104-108h1m-24 60h1m-13 56h1m3-74h1m-28 93h1m86 9h1m-53 31h1" stroke="#4A63F5" stroke-width="8.4" stroke-linecap="round" fill="none" opacity="1.0"/>
<path transform="scale(.1)" d="M5742 1912h1m-21 103h1m-3-80h1m-22 23h1m117-96h1m-120 18h1m-20 57h1m125-26h1m10-125h1m-70 161h1m-134-2h1m72-44h1m76 30h1m-39-17h1m97-62h1m-187-77h1m129 225h1m-84-113h1m124-4h1m-91 8h1m70 7h1m-108 10h1m-50-86h1m18 94h1m31-22h1m-28-8h1m142-7h1m8 18h1m-69-75h1m-85 65h1m57-12h1m-37 14h1m136 61h1m-74-11h1m10 14h1" stroke="#45E845" stroke-width="8.4" stroke-linecap="round" fill="none" opacity="1.0"/>
<path transform="scale(.1)" d="M5740 1882h1m-48-1h1m-19 20h1m66-9h1m14 8h1m-119-41h1m177 59h1m-86-27h1m-8-7h1m59-75h1m-52 48h1m-36 25h1m143-33h1m-170 6h1m50-35h1m48 30h1m-100-66h1m49 23h1m24 71h1m103 20h1m-171-67h1m42 19h1m36 31h1m-31 72h1m-67 18h1m82-113h1m-16-22h1m16-1h1m34 108h1m-7-120h1m-32 81h1m-6-48h1m-74-1h1m49 63h1m17-11h1m-33 76h1m25-59h1m-49 45h1m121-115h1m31 19h1m-132-44h1m40 29h1m-34 51h1m76-51h1m-44 38h1m-19-51h1m-17 15h1m17 67h1m-59-51h1m86-3h1m-73 19h1m64-62h1m-22-42h1m49 107h1m-59-1h1m53 98h1m-102-109h1m78 16h1m-44 89h1m21-127h1m-7-15h1m43 68h1m-153-18h1m120 30h1m-95-89h1m138 118h1m-165-63h1m49-117h1m-36 99h1m171-22h1m-153 32h1m72 53h1m-35-59h1m-66-23h1m75 74h1m50-70h1m-45-47h1m58 9h1m-69 137h1m18-31h1m-21 33h1m37-139h1m79 24h1m-80-5h1m-10 82h1m-43 15h1m-8-65h1m114-1h1m-134 49h1m9-51h1m41-26h1m-18 22h1m122 65h1m-224 55h1m140-95h1m17-22h1m-96 22h1m24 8h1m54 14h1m61-73h1m-133 40h1m-35-9h1m131 56h1m28-18h1m-97-40h1m-98 60h1m188 13h1m-86-48h1m67-79h1m-61 52h1m-18-65h1m-5 82h1m98 9h1m-3 56h1m-185-42h1m61-104h1m139 57h1m-112-21h1m-52 2h1m69 37h1" stroke="#F545F5" stroke-width="8.4" stroke-linecap="round" fill="none" opacity="1.0"/>
<path transform="scale(.1)" d="M5699 1893h1m17 58h1m29-165h1m-13 61h1m1-13h1m-19 145h1m-51-13h1m26-129h1m-38 75h1m105 4h1m-169-35h1m100 94h1m140-120h1m-148 45h1m-44-27h1m59 67h1m70-69h1m-79 71h1m40-97h1m-28-11h1m-27 13h1m190 23h1m-168-7h1m-34 198h1m2-209h1m46 65h1m0-22h1m19 23h1m-35 65h1m-86-50h1m105-71h1m-46-45h1m0 121h1m-66 16h1m48-139h1m-9 138h1m36-175h1m-77 120h1m80 55h1m3-110h1m-68-42h1m25 185h1m-13-177h1m94 108h1m-187-104h1m118 110h1m-73 71h1m66-123h1m68-25h1m-81-69h1" stroke="#4A63F5" stroke-width="8.4" stroke-linecap="round" fill="none" opacity="1.0"/>
<path transform="scale(.1)" d="M5835 1775h1m-66 67h1m-61-6h1m-19 109h1m13-14h1m-35-86h1m34-57h1m-146 9h1m173-59h1m-14 128h1m165 7h1m-116-51h1m-81 63h1m66 5h1m-115 63h1m38-130h1m-81 132h1m210-102h1m-55 124h1m-114-161h1m70 136h1m64-120h1m-30 156h1m-9-74h1m-80-103h1m13 127h1m46-56h1m52 35h1m-113 117h1m-20-168h1m144-8h1m-133 99h1m127-108h1m-54 88h1m39 13h1" stroke="#45E845" stroke-width="8.4" stroke-linecap="round" fill="none" opacity="1.0"/>
<path transform="scale(.1)" d="M5730 1876h1m-36-23h1m152 97h1m-199-33h1m117-35h1m12-37h1m-154 50h1m11-12h1m118-57h1m-55-23h1m44 34h1m38-26h1m-79 86h1m-37-5h1m-87-32h1m151 32h1m-60 10h1m63-111h1m-5 96h1m-85 39h1m160-75h1m-34-70h1m-13 91h1m-106-59h1m39 86h1m-8 3h1m6 10h1m-38-28h1m79-103h1m-11 155h1m6-144h1m-46 136h1m92-40h1m-58-55h1m-152 11h1m107 18h1m29 99h1m52-103h1m-67 71h1m2-185h1m-22 143h1m67-20h1m-58 69h1m-9-35h1m-8 42h1m66-117h1m-58 64h1m-60-43h1m118 65h1m-69-10h1m53-92h1m0 116h1m42 43h1m-9-114h1m-85 80h1m20-36h1m-59-70h1m153 90h1m-65-88h1m48 80h1m-90-112h1m-90 9h1m184 93h1m-75-14h1m1 32h1m-5-53h1m29-49h1m-6 134h1m-111-122h1m137 116h1m-84-24h1m2 48h1m112-201h1m-42 105h1m-67-9h1m-79 47h1m103-90h1m19 164h1m-33-110h1m-61-113h1m22 134h1m-25-21h1m75-33h1m30 76h1m10-43h1m-92-48h1m49 39h1m16-9h1m-56 37h1m17-34h1m117 13h1m-100-72h1m34 38h1m-70 50h1m24 114h1m-92-164h1m87-2h1m62 87h1m45 56h1m-47-45h1m-28-107h1m-33 103h1m-35-31h1m22-35h1m39-52h1m-74 64h1m88 4h1m-100 24h1m-42-113h1m39 29h1m-35 60h1m14 67h1m128-31h1m-69-71h1m20 68h1m48-84h1m4 28h1m-92 3h1m94-18h1m-50 8h1" stroke="#F545F5" stroke-width="8.4" stroke-linecap="round" fill="none" opacity="1.0"/>
<path transform="scale(.1)" d="M5586 1925h1m-21-27h1m78-17h1m-46-15h1m-29-39h1m22 48h1m-37-67h1m25 65h1m19 78h1m-32 24h1m18 15h1m14-39h1m-54 30h1m38-111h1m-2-1h1m-35 15h1m20 45h1m-21-16h1m21 40h1m12-130h1m-4 178h1m10-60h1m-32-50h1m20 78h1m-34-133h1m49 74h1m-58 21h1m10 61h1m-4-43h1m12-61h1m-10 61h1m-13 46h1m56-105h1m-56 54h1m30-106h1" stroke="#4A63F5" stroke-width="8.4" stroke-linecap="round" fill="none" opacity="1.0"/>
<path transform="scale(.1)" d="M5571 1868h1m-15-6h1m2-33h1m57 16h1m-5 94h1m-50-47h1m6 61h1m-6 12h1m20-1h1m15 18h1m-33-25h1m-19 3h1m38-88h1m-4 83h1m-20 40h1m-9-74h1m-2 44h1m-10-96h1m5 92h1m18-66h1m-18 75h1m3-61h1m-1-75h1m8 111h1m18-45h1" stroke="#45E845" stroke-width="8.4" stroke-linecap="round" fill="none" opacity="1.0"/>
<path transform="scale(.1)" d="M5676 2021h1m59 39h1m-46-3h1m90-106h1m-10 43h1m-35 30h1m-52-78h1m44 81h1m7 2h1m-84 3h1m62-48h1m15 53h1m-23-50h1m59 63h1m-17-33h1m-91 7h1m41 13h1m-44-89h1m62 43h1m-65 60h1m78-60h1m-24-76h1m24 26h1m-50-36h1m-59 94h1m142-13h1m-87 35h1m67 40h1m-43-7h1m10-47h1m50 34h1m-67-7h1m46 19h1m-128-151h1m103 133h1m-50-72h1m3 71h1m6 19h1m14-35h1m57 9h1m-157-47h1m83 63h1m-34-55h1m82-154h1m-71 187h1m38-103h1m-39 11h1m46 76h1m14 6h1m-63-89h1m19 78h1m-67 29h1m76-24h1m23 4h1m-63-66h1m73 31h1m-142-17h1m8 24h1m20 17h1m39-33h1m21 13h1m-5 15h1m-1 56h1m34-11h1m-54-38h1m-36 11h1m0-43h1m148 58h1m-199 35h1m96-67h1m71 49h1m-44-113h1m-59 90h1m35 41h1m38-97h1m14 51h1m-94-15h1m72-18h1m-23 53h1m36-9h1m12 25h1m-78 10h1m-50-91h1m81 31h1m60-43h1m-49 103h1m-21-4h1m95-45h1m-154 33h1m85-31h1" stroke="#4A63F5" stroke-width="8.4" stroke-linecap="round" fill="none" opacity="1.0"/>
<path transform="scale(.1)" d="M5689 2047h1m-72-115h1m93 18h1m-32 67h1m57 29h1m-82-63h1m31 40h1m-30 39h1m-6-12h1m94-31h1m-64 40h1m48-14h1m-85-3h1m65-87h1m-98 84h1m64-110h1m-2 54h1m58-48h1m-23 62h1m-20 26h1m53 12h1m-36-23h1m18 34h1m11-46h1m-46-52h1m-13 1h1m33 43h1m-42-37h1m43-1h1m38 15h1m-15-6h1m-68 82h1m-50 11h1m66-45h1m-5 46h1m66-42h1m-82 45h1m8-71h1m50-15h1m-66 66h1" stroke="#45E845" stroke-width="8.4" stroke-linecap="round" fill="none" opacity="1.0"/>
<path transform="scale(.1)" d="M5839 1592h1m-172 239h1m152-53h1m105 45h1m-42-33h1m-74 94h1m108-56h1m161-335h1m-218 280h1m113-320h1m-223 401h1m2 14h1m509-377h1m-544 482h1m1-5h1m122-312h1m49 103h1m-140 61h1m213-200h1m-101 41h1m-54 161h1m175-82h1m-121-31h1m226-266h1m-369 391h1m108 7h1m120-170h1m-183 177h1m302-420h1m41 102h1m-309 262h1m117-252h1m-174 210h1m432-242h1m-400 289h1m-156 148h1m88-163h1m74-96h1m-122 234h1m502-453h1m-164 103h1m-104 49h1m110 59h1m-56 38h1m116-153h1m-29 56h1m-253 166h1m-93 73h1m57 38h1m55-70h1m26-93h1m-174 121h1m429-365h1m-275 372h1m182-234h1m-329 373h1m167-244h1m190-177h1m-313 282h1m444-457h1m-426 459h1m154 3h1m121-271h1m-176 144h1m148-200h1m-252 311h1m31-3h1m217-198h1m100-181h1m-43 7h1m-172 373h1m-19-123h1m-30 33h1m163-185h1m-295 305h1m390-350h1m-60 160h1m-311 221h1m176-152h1m-81-34h1m301-191h1m-295 214h1m43-156h1m205-96h1m-249 270h1m263-323h1m-262 338h1m-294 92h1m105-28h1m255-223h1m2 131h1m127-226h1m-146 212h1m45-94h1m-66 68h1m50 11h1m84-182h1m-270 193h1m213-35h1m135-207h1m48-39h1m-252 248h1m-210 219h1m381-390h1m-151 196h1m241-362h1m-136 147h1m-181 287h1m210-266h1m-90 167h1m91-117h1m38-95h1m-59 48h1m12 22h1m-207 130h1m85 39h1m22-73h1m-174 89h1m295-132h1m-130 60h1m18-152h1m137 84h1m-217-13h1m154-87h1m-8-27h1m20 16h1m-443 372h1m33 35h1m272-331h1m-97 200h1m261-222h1m-200 162h1m113-175h1m-289 177h1m188 13h1m185-222h1m68-43h1m-279 358h1m-17-108h1m103-142h1m-198 129h1m174 44h1m167-350h1m14 54h1m-286 298h1m136-162h1m159-123h1m-358 343h1m287-257h1m31-36h1" stroke="#45E845" stroke-width="8.4" stroke-linecap="round" fill="none" opacity="1.0"/>
<path transform="scale(.1)" d="M5787 1858h1m-23 12h1m237-260h1m220-221h1m-208 229h1m-234 247h1m108-68h1m2-77h1m203-180h1m-113 71h1m-243 245h1m118-118h1m142-134h1m-113 100h1m55-46h1m207-198h1m15-18h1m-126 137h1m-135 123h1m-92 92h1m-23 66h1m-16-20h1m157-164h1m61-65h1m51-51h1m44-39h1m-298 268h1m40 12h1m-35 50h1m103-124h1m211-243h1m-146 122h1m-125 141h1m-80 93h1m271-264h1m30-45h1m-84 80h1m-163 209h1m1-61h1m89-49h1m177-191h1m-326 276h1m78-33h1m-121 94h1m-22 9h1m54-78h1m236-208h1m-53 84h1m-89 71h1m-16 31h1m-65 27h1m204-180h1m-121 119h1m-151 107h1m189-175h1m285-248h1m-449 449h1m455-466h1m-454 455h1m70-50h1m344-349h1m-17-4h1m-366 390h1m202-182h1m-68 29h1m-62 97h1m119-200h1m-37 108h1m-158 127h1m62-108h1m119-60h1m-36 43h1m-30 34h1m80-88h1m-227 204h1m-37 14h1m0 7h1m196-182h1m-66 75h1m169-187h1m123-116h1m-384 410h1m69-89h1m37 11h1m40-50h1m160-222h1m-171 170h1m-117 92h1m136-124h1m-105 142h1m59-97h1m-152 140h1m161-135h1m-20 44h1m51-78h1m-33 32h1m15 12h1m66-79h1m-214 218h1m223-221h1m-79 40h1m40-16h1m-123 102h1m-70 117h1m336-359h1m-84 57h1m145-120h1m-317 278h1m224-181h1m-17 3h1m-173 149h1m185-179h1m-56 63h1m-265 268h1m-3-19h1m100-65h1m20-67h1m64-33h1m-37 37h1m145-171h1m-35 63h1m-281 236h1m54-83h1m275-216h1m-81 84h1m-241 272h1m176-216h1m-140 195h1m112-124h1m304-332h1m-435 468h1m260-297h1m-164 144h1m301-284h1m-113 121h1m-309 301h1m183-196h1m106-123h1m-225 264h1m150-163h1m-188 143h1m5 34h1m45-30h1m-24 1h1m336-327h1m-343 357h1m29-89h1m36-7h1m90-74h1m194-197h1m-219 241h1m98-156h1m-277 300h1m188-172h1m-159 180h1m276-291h1m-165 121h1m-148 156h1m277-281h1m-140 172h1m-41-11h1m-91 159h1m323-349h1m-203 202h1m148-190h1m-303 309h1m221-185h1m-142 89h1m71-40h1m36-34h1m107-92h1m66-77h1m-326 329h1m269-284h1m-289 294h1m-31 26h1m93-70h1m-19-7h1m200-178h1m-124 67h1m-28 96h1m149-184h1m111-97h1m-183 172h1m12 3h1m112-110h1m-260 223h1m401-386h1m-433 426h1m-31 41h1m271-302h1m-243 261h1m46-49h1m54-66h1m-121 132h1m77-111h1m14 61h1m-91 67h1m180-154h1m-89 25h1m-98 84h1m254-215h1m-184 135h1m-88 138h1m320-338h1m-218 217h1m-87 103h1m52-59h1m15 36h1m-77 42h1m54-110h1m-17 81h1m-23-47h1m182-142h1m-199 158h1m-33 43h1m75-10h1m6-62h1m-41 36h1m147-140h1m151-143h1m-22 46h1m-189 137h1m140-132h1m16 12h1m-97 54h1m95-68h1m-161 194h1m132-162h1m-104 92h1m91-93h1m-3-2h1m-237 233h1m297-277h1m-277 314h1m107-123h1m41-79h1m112-112h1m-268 300h1m175-234h1m-110 133h1m-88 89h1m72-94h1m116-107h1m-170 200h1m275-309h1m-307 300h1m59-50h1m37-17h1m-101 54h1m384-329h1m37-52h1m-64 63h1m-307 297h1m250-250h1m-218 200h1m13 45h1m133-162h1m-211 202h1m-5 39h1m358-397h1m-267 290h1m171-189h1m-169 145h1m-79 124h1m87-148h1m-69 124h1m-50 1h1m3 37h1m122-100h1m-55 35h1m6-40h1m325-309h1m-114 108h1m-76 58h1m-175 163h1m206-174h1m-22 31h1m-97 45h1m-78 114h1m-1 18h1m59-72h1m-62 30h1m283-242h1m-224 180h1m104-63h1m130-123h1m-185 120h1m-130 180h1m46-47h1m278-283h1m-375 345h1m56-41h1m125-146h1m136-106h1m-19 25h1m-60 38h1m-18 12h1m-125 128h1m-87 98h1m189-187h1m-189 182h1m266-262h1m-271 228h1m-53 4h1m529-435h1m-427 462h1m99-174h1m-162 171h1m437-413h1m-425 451h1m213-232h1m87-81h1m-240 218h1m-75 88h1m6-7h1m-8-20h1m261-226h1m-103 95h1m186-188h1m-157 135h1m-2 31h1m-160 105h1m26 15h1m362-390h1m-33 41h1m-260 285h1m139-165h1m-35 44h1m-191 141h1m21 68h1m185-219h1m151-163h1m34-30h1m-344 346h1m-68 103h1m52-92h1m-99 45h1m459-413h1m-352 386h1m214-240h1m-258 235h1m352-333h1m-267 261h1m161-154h1m-139 94h1m85-67h1m-230 264h1m-11-18h1m86-71h1m240-223h1m10-40h1m-119 125h1m-58 41h1m-182 172h1m373-353h1m-177 147h1m-28 11h1m146-82h1m-258 233h1m145-119h1m16-38h1m35-35h1m-228 244h1m217-225h1m93-121h1m-135 173h1m-183 127h1m337-305h1m-304 378h1m-3-74h1m265-245h1m-150 118h1m-79 102h1m183-199h1m-75 81h1m-196 160h1m31-32h1m242-211h1m-15-15h1m-274 270h1m159-118h1m66-94h1m-154 141h1m-83 70h1m124-86h1m257-264h1m-133 138h1m-195 185h1m269-237h1m-112 76h1m-162 114h1m22 35h1m-30 25h1m71-68h1m-39-8h1m13 60h1m236-267h1m-70 68h1m-135 96h1m287-245h1m-198 191h1m187-173h1m-113 92h1m-106 86h1m39-13h1m31-49h1m1 21h1m59-81h1m-232 239h1m6-8h1m-35 38h1m300-304h1m-19 14h1m-222 228h1m-21 7h1m-73 91h1m394-399h1m-235 190h1m217-173h1m-200 227h1m-59 35h1m102-98h1m82-87h1m-37 23h1m-230 199h1m82-28h1m235-243h1m-241 240h1m129-135h1m-126 126h1m139-148h1m-284 290h1m-22 13h1m27-18h1m87-121h1m-20 26h1m314-292h1m66-74h1m-481 407h1m306-231h1m-180 123h1m195-115h1m-209 199h1m159-167h1m-286 252h1m134-141h1m-35 56h1m-23 27h1m3-25h1m50-26h1m32-20h1m9-12h1m72-106h1m44-57h1m127-96h1m-202 187h1m-136 160h1m120-98h1m-50 54h1m-82 48h1m40-19h1m-24 40h1m79-125h1m-146 152h1m154-144h1m-58 36h1m-127 111h1m72-77h1m359-338h1m-253 237h1m-146 183h1m147-179h1m70-37h1m-196 203h1m47-115h1m-29 90h1m88-128h1m145-116h1m-236 228h1m-38 21h1m10 11h1m141-174h1m-167 188h1m141-143h1m124-135h1m-22 29h1m-60 34h1m-200 234h1m100-147h1m-38 83h1m86-93h1m-112 121h1m-24-14h1m386-342h1m-80 49h1m-309 314h1m267-283h1m-258 311h1m50-107h1m383-364h1m-90 74h1m-243 257h1m87-102h1m-110 139h1m190-218h1m-236 216h1m-16 50h1m-43-6h1m171-155h1m-13 47h1m162-200h1m-295 336h1m234-262h1m102-105h1m-131 142h1m-219 232h1m-8-28h1m-13 24h1m83-59h1m163-171h1m-232 216h1m85-102h1m-128 115h1m220-202h1m-183 213h1m249-260h1m-89 84h1m-127 160h1m157-203h1m-136 130h1m60-59h1m36 12h1m-146 48h1m77-15h1m154-154h1m44-52h1m4 26h1m-142 135h1m145-162h1m-312 275h1m423-394h1m-444 427h1m345-333h1m-71 73h1m-176 159h1m177-155h1m129-127h1m-356 372h1m152-179h1m-243 177h1m256-175h1m-196 206h1m183-220h1m-218 206h1m125-95h1m195-223h1m-226 256h1m322-351h1m-291 276h1m-81 102h1m327-342h1m-337 349h1m150-139h1m192-216h1m7 13h1m-229 206h1m-101 128h1m87-99h1m-79 61h1m5-7h1m-15-17h1m-23 47h1m-48 43h1m272-222h1m-253 256h1m144-205h1m-50 98h1m96-113h1m-36 23h1m-30 47h1m129-128h1m-107 82h1m176-168h1m-165 170h1m141-158h1m-2 16h1m-92 87h1m-152 135h1m51-54h1m-112 140h1m226-221h1m-41 32h1m76-97h1m-257 291h1m2-21h1m177-171h1m43-35h1m-253 205h1m-1 23h1m77-89h1m0-9h1m-42 125h1m-6-29h1m-9-68h1m-22 83h1m20-50h1m-8 58h1m82-116h1m147-153h1m-39 44h1m-23 27h1m-56 48h1m-93 85h1m-39 39h1m46-28h1m332-358h1m-98 108h1m-118 115h1m13-22h1m70-49h1m26-58h1m-228 236h1m217-221h1m-65 88h1m-145 120h1m9 4h1m-30 39h1m98-145h1m272-234h1m-152 136h1m-233 236h1m-12 15h1m58-35h1m-35 34h1m7 22h1m186-235h1m-169 152h1m87-86h1m-74 101h1m355-363h1m-264 261h1m-162 137h1m244-225h1m-191 193h1m50-57h1m-66 44h1m47-86h1m-40 83h1m24 16h1m-60 38h1m356-381h1m-347 364h1m-3-47h1m89 8h1m-111 67h1m11-51h1m81-30h1m46-82h1m-6 33h1m-65 53h1m104-128h1m49-16h1m-207 158h1m28 44h1m115-152h1m-94 67h1m182-183h1m-264 338h1m154-173h1m-100 35h1m-3 80h1m247-291h1m-274 264h1m220-217h1m38-41h1m109-95h1m-394 386h1m-19-39h1m37 77h1m48-88h1m248-284h1m-148 152h1m-177 157h1m-1 27h1m231-227h1m-60 58h1m-211 186h1m184-182h1m-114 153h1m17-44h1m-22 90h1m400-473h1m-317 340h1m51-70h1m-153 130h1m79-25h1m84-117h1m37-55h1m106-96h1m-274 305h1m-34-29h1m84-17h1m-39 22h1m197-220h1m-171 208h1m4 5h1m28-60h1m18-28h1m-54 96h1m-100 98h1m216-279h1m-216 225h1m289-286h1m-256 245h1m-13-17h1m123-63h1m183-203h1m-248 249h1m48-19h1m-47-1h1m-86 98h1m54-47h1m278-291h1m23-20h1m-307 328h1m287-309h1m-346 386h1m210-265h1m-226 245h1m96-139h1m11 20h1m-1-14h1m276-247h1m-287 292h1m-99 94h1m43-5h1m212-243h1m-225 221h1m-41-2h1m26-47h1m403-363h1m-310 301h1m-98 86h1m180-168h1m-124 88h1m98-25h1m285-326h1m-248 241h1m-57 82h1m309-333h1m-318 348h1m-19 19h1m167-195h1m90-95h1m-167 167h1m-158 118h1m52 28h1m-132 99h1m52-75h1m207-203h1m-112 139h1m176-169h1m-124 78h1m-39 49h1m104-119h1m-117 159h1m60-74h1m-47 95h1m-75 19h1m162-167h1m-255 240h1m429-403h1m-34 14h1m-98 121h1m-167 161h1m-16-3h1m-22 11h1m42 4h1m-63 90h1m192-253h1m59-47h1m-170 203h1m141-190h1m-236 236h1m234-245h1m114-99h1m-211 209h1m194-196h1m-175 164h1m-25 8h1m-91 87h1m-125 127h1m41 6h1m253-281h1m-261 244h1m195-159h1m-183 185h1m202-231h1m148-142h1m-201 218h1m-188 186h1m226-254h1m-99 119h1m180-187h1m-271 303h1m9-67h1m306-273h1m-64 59h1m42-61h1m-184 219h1m59-66h1m143-175h1m-141 192h1m-230 155h1m22-15h1m-34 49h1m45-12h1m-26 20h1m93-114h1m99-70h1m114-138h1m-190 219h1m-53 99h1m275-356h1m-9-22h1m81-57h1m-446 414h1m196-161h1m16-17h1m-54 24h1m-117 110h1m333-304h1m-207 204h1m-194 117h1m141-36h1m134-160h1m-192 191h1m218-214h1m-233 197h1m83-56h1m-31 61h1m-47 49h1m291-318h1m-250 236h1m157-165h1m101-72h1m-268 265h1m-93 64h1m140-177h1m-84 108h1m266-267h1m-257 318h1m181-215h1m-251 223h1m75-61h1m19 64h1m233-293h1m-152 105h1m38-13h1m-212 175h1m60-69h1m283-235h1m-128 176h1m54-79h1m-124 97h1m-103 90h1m313-301h1m-277 304h1m-65-9h1m166-162h1m-140 236h1m214-270h1m-15 39h1m-140 117h1m59-32h1m-36-14h1m-113 141h1m17 16h1m68-91h1m-121 78h1m68-28h1m32-77h1m88-101h1m-23 65h1m-96 124h1m201-229h1m0-36h1m-47 84h1m8-14h1m-172 145h1m225-250h1m-96 154h1m-134 138h1m168-187h1m-49 2h1m-23 26h1m-8 65h1m119-131h1m-22 16h1m-71 56h1m-159 176h1m31-60h1m380-368h1m-332 311h1m99-72h1m-179 159h1m159-126h1m12-18h1m55-86h1m172-144h1m-310 266h1m-28 67h1m-36 56h1m52-51h1m-10-82h1m316-253h1m-252 272h1m66-67h1m-8-62h1m-238 255h1m69-51h1m98-106h1m-126 178h1m-7-58h1m239-197h1m-45 33h1m-213 156h1m1 12h1m290-267h1m-166 174h1m-40 65h1m136-169h1m-13 35h1m237-268h1m-488 402h1m284-195h1m-123 139h1m-80 57h1m74-88h1m-127 164h1m50-5h1m-37-27h1m194-206h1m6-9h1m-134 207h1m-11-49h1m187-177h1m-147 168h1m-15 11h1m274-313h1m-212 242h1m-4 1h1m23-33h1m-173 194h1m80-129h1m168-156h1m-73 63h1m143-123h1m-272 243h1m68-41h1m-100 57h1m-1 28h1m-31 22h1m33-26h1m-7 14h1m80-90h1m-11 9h1m129-160h1m34 20h1m-124 90h1m51-43h1m-83 66h1m-29 77h1m39-90h1m65-34h1m202-202h1m-104 118h1m-272 283h1m175-201h1m-208 156h1m206-142h1m110-121h1m-83 82h1m-198 205h1m80-104h1m-81 63h1m180-144h1m23-22h1m-10-34h1m-128 171h1m76-97h1m-122 143h1m308-333h1m12-4h1m-368 389h1m159-174h1m43-89h1m-155 203h1m-67 44h1m-28-12h1m260-210h1m-263 204h1m141-74h1m173-171h1m-292 249h1m238-206h1m-114 106h1m-12 17h1m7-57h1m-21 69h1m214-230h1m-98 111h1m-116 99h1m-64 98h1m106-135h1m334-337h1m-138 150h1m-334 322h1m93-74h1m27-49h1m-19 26h1m-104 74h1m39-1h1m115-111h1m63-94h1m5 10h1m-25 18h1m-15-16h1m-203 235h1m70-44h1m9-62h1m-44 6h1m68-13h1m-8-15h1m14 54h1m-122 67h1m323-322h1m77-84h1m-206 216h1m-132 110h1m53-61h1m239-218h1m-182 165h1m62-21h1m-23-26h1m218-197h1m-236 222h1m-199 170h1m164-84h1m185-249h1m-303 370h1m-67-23h1m23 24h1m38 29h1m-43-93h1m244-205h1m-55 106h1m46-72h1m-85 68h1m-66 77h1m167-183h1m-222 241h1m74-40h1m-7-43h1m107-96h1m48-30h1m-77 99h1m-12-45h1m-105 125h1m97-119h1m124-123h1m-182 181h1m127-129h1m-120 89h1m-2-4h1m51-22h1m-146 165h1m36-5h1m-38-15h1m121-110h1m63-47h1m17-17h1m-189 171h1m37-37h1m-27 85h1m140-205h1m-93 86h1m-65 31h1m14 43h1m328-344h1m-230 278h1m293-343h1m-361 385h1m-30 34h1m182-180h1m97-144h1m-287 349h1m255-303h1m-142 138h1m169-172h1m39-39h1m-273 267h1m256-271h1m-322 359h1m74-89h1m-14-12h1m-53 74h1m105-49h1m88-138h1m-240 221h1m141-89h1m-15-46h1m-101 114h1m149-157h1m-135 139h1m118-96h1m-2-2h1m65-92h1m130-120h1m-8 9h1m-229 218h1m-75 83h1m-17-3h1m213-207h1m-9 21h1m9-27h1m34-12h1m-136 124h1m170-178h1m-137 136h1m-11 12h1m107-101h1m-94 98h1m51-58h1m107-114h1m-241 286h1m132-154h1m-182 168h1m72-52h1m175-195h1m94-101h1m-33 35h1m-114 157h1m36-69h1m24-26h1m-158 136h1m-114 139h1m-36 90h1m225-291h1m4 6h1m-14 17h1m-71 62h1m40-24h1m13-41h1m-77 83h1m39-64h1m-109 197h1m66-137h1m35-40h1m-12 39h1m-128 84h1m-32 44h1m170-187h1m-176 191h1m247-255h1m-222 243h1m210-229h1m-175 161h1m256-245h1m-292 291h1m-26 14h1m195-163h1m44-52h1m-175 167h1m24-58h1m93-55h1m-157 110h1m49-10h1m60-65h1m-100 82h1m-51 42h1m327-312h1m-292 362h1m387-453h1m-143 141h1m-167 193h1m180-199h1m-292 319h1m126-188h1m-75 73h1m42 76h1m216-309h1m-342 334h1m318-308h1m-290 317h1m174-229h1m-128 159h1m76-86h1m215-209h1m-93 89h1m-268 247h1m55-63h1m43-78h1m131-57h1m-273 208h1m343-303h1m-1 29h1m81-110h1m-341 362h1m-10-15h1m253-238h1m-153 144h1m-97 81h1m-36 92h1m29-80h1m152-172h1m36-17h1m-139 157h1m252-278h1m-198 227h1m1-3h1m-26 61h1m-33-38h1m2 31h1m174-217h1m-163 177h1m-61 73h1m67-62h1m240-251h1m-170 168h1m-187 169h1m97-91h1m25-7h1m-131 141h1m401-416h1m-45 50h1m-327 352h1m105-182h1m-71 95h1m-26 35h1m11-25h1m-39 88h1m204-223h1m-132 114h1m129-125h1m68-53h1m-129 102h1m-82 81h1m-44 78h1m164-183h1m18-1h1m41-64h1m-230 246h1m-45 5h1m325-321h1m-139 149h1m-208 127h1m255-168h1m-212 234h1m173-202h1m-36 28h1m80-57h1m-227 205h1m339-328h1m34-25h1m51-68h1m-178 188h1m-180 177h1m342-355h1m-241 244h1m43-49h1m-17 37h1m-194 125h1m282-240h1m-101 117h1m-168 130h1m58-38h1m-81 62h1m104-73h1m328-335h1m-334 364h1m-9-16h1m159-184h1m-256 275h1m14-6h1m226-220h1m-266 177h1m194-124h1m82-118h1m-99 142h1m-156 152h1m35-35h1m111-107h1m228-246h1m-200 184h1m28-10h1m-36 54h1m-110 81h1m101-99h1m-210 171h1m150-85h1m152-189h1m-244 229h1m159-148h1m29-36h1m-197 205h1m289-267h1m-252 256h1m341-352h1m-303 330h1m66-125h1m213-192h1m-92 110h1m-136 167h1m-141 45h1m147-137h1m8 31h1m-179 158h1m85-101h1m272-245h1m-220 198h1m-137 88h1m191-127h1m-73 76h1m230-227h1m-210 223h1m-149 133h1m29-43h1m-3-10h1m354-351h1m-297 299h1m15 22h1m322-345h1m-351 405h1m110-174h1m190-204h1m-24 49h1m-308 328h1m68-127h1m-81 62h1m186-139h1m-157 174h1m-47-7h1m38-16h1m-49 34h1m206-205h1m-171 156h1m57-19h1m-47 33h1m28-37h1m-51-2h1m72 42h1m104-167h1m-185 197h1m170-189h1m-113 143h1m-103 47h1m30 17h1m317-323h1m-327 357h1m36-95h1m257-238h1m-304 305h1m69-3h1m-34-68h1m253-209h1m-288 264h1m373-352h1m-354 370h1m134-152h1m94-93h1m-97 97h1m-30 10h1m-22 29h1m-80 39h1m417-375h1m-358 340h1m94-81h1m-14 34h1m224-237h1m-342 351h1m-17 35h1m278-340h1m-179 216h1m46-58h1m-8 7h1m64-85h1m46-18h1m-68 80h1m-228 238h1m288-322h1m-286 306h1m305-313h1m-299 343h1m250-289h1m-74 56h1m-200 199h1m252-253h1m-79 80h1m-159 139h1m313-290h1m-162 136h1m-51 46h1m266-245h1m-349 329h1m-4 12h1m288-307h1m-279 327h1m239-264h1m-241 236h1m240-230h1m-176 173h1m67-87h1m23 32h1m-105 51h1m59-26h1m58-46h1m-202 147h1m337-319h1m-74 60h1m-221 262h1m-16-24h1m42-62h1m179-130h1m-114 112h1m-91 46h1m199-157h1m-222 207h1m205-162h1m11-33h1m-257 210h1m155-145h1m3-16h1m247-229h1m-343 342h1m60-45h1m238-255h1m-372 327h1m330-298h1m-222 268h1m-11 3h1m359-391h1m-363 359h1m-46 45h1m-10 14h1m157-190h1m-3 51h1m-158 120h1m94-72h1m-106 33h1m262-191h1m-191 220h1m53-134h1m197-136h1m-300 296h1m325-346h1m-272 241h1m90-30h1m-140 122h1m156-153h1m5-22h1m-65 53h1m150-124h1m-201 166h1m-112 162h1m335-382h1m-189 186h1m13-24h1m21 35h1m-220 137h1m81-58h1m-32 83h1m177-195h1m120-95h1m-101 106h1m63-91h1m-195 203h1m-125 48h1m128-93h1m-68 80h1m41-38h1m-38 3h1m-12 23h1m183-173h1m-21 58h1m101-118h1m144-154h1m-386 380h1m325-315h1m-127 112h1m-90 95h1m249-257h1m-260 286h1m-142 156h1m15-36h1m55-54h1m139-146h1m-37 74h1m28-69h1m-244 198h1m69-58h1m124-80h1m43-39h1m-88 85h1m-66 69h1m18-37h1m159-191h1m-16 28h1m-193 155h1m354-308h1m-409 368h1m75-30h1m60-68h1m144-171h1m-90 135h1m45-47h1m164-192h1m-288 303h1m-49 64h1m55-84h1m68-42h1m-147 132h1m-12 40h1m219-251h1m208-214h1m-75 81h1m-265 279h1m18-33h1m160-174h1m147-147h1m-350 345h1m300-296h1m-165 173h1m-193 193h1m89-97h1m-133 133h1m119-115h1m56-26h1m115-132h1m-208 173h1m127-105h1m-2-13h1m-56 58h1m33-36h1m-64 53h1m49-64h1m-73 41h1m255-193h1m-317 348h1m270-319h1m-60 80h1m-264 242h1m247-230h1m-152 124h1m56-41h1m5-3h1m72-112h1m-82 128h1m53-63h1m-179 110h1m3 87h1m189-210h1m238-237h1m-433 441h1m332-348h1m-262 238h1m109-91h1m-141 136h1m182-128h1m-100 102h1m126-180h1m-208 203h1m26-7h1m106-104h1m-189 155h1m410-397h1m-217 264h1m218-252h1m-407 353h1m195-183h1m-180 187h1m-18 48h1m111-105h1m-2-21h1m17-46h1m-14 55h1m-81 91h1m162-180h1m-159 144h1m22 7h1m183-201h1m-61 40h1m32-10h1m116-132h1m-41 67h1m-258 256h1m363-383h1m-271 281h1m25-3h1m-140 51h1m62-6h1m79-40h1m-208 120h1m257-210h1m-162 125h1m147-111h1m-3-40h1m-48 56h1m-169 186h1m164-145h1m-71 77h1m136-140h1m4 8h1m-89 84h1m93-98h1m-232 189h1m268-242h1m142-116h1m-70 72h1m-69 54h1m-172 176h1m257-266h1m-217 196h1m-83 148h1m74-140h1m152-146h1m-72 115h1m44-118h1m-276 316h1m402-427h1m-51 56h1m-218 222h1m219-221h1m-320 327h1m42-68h1m-52 68h1m163-184h1m156-138h1m7-18h1m-342 376h1m224-267h1m-77 113h1m-127 98h1m290-283h1m-171 202h1m-164 138h1m70-123h1m145-87h1m65-117h1m-239 287h1m123-141h1m-182 146h1m361-316h1m-366 353h1m435-410h1m-264 237h1m104-60h1m-44 36h1m-88 45h1m-28 20h1m-43 103h1m1-45h1m-52 59h1m42-55h1m128-147h1m-35 50h1m-1-12h1m-23 7h1m248-215h1m-65 92h1m-233 253h1m74-123h1m251-249h1m-343 355h1m164-154h1m-35 15h1m1-18h1m-48 47h1m95-66h1m-122 169h1m238-314h1m-229 188h1m-47 115h1m96-122h1m22-18h1m147-136h1m-171 157h1m-63 29h1m-70 47h1m49 2h1m-62 29h1m136-98h1m113-137h1m-133 142h1m-150 113h1m-31 61h1m328-322h1m-243 263h1m149-140h1m152-180h1m-11 3h1m-191 243h1m171-212h1m-241 252h1m265-277h1m-155 177h1m-201 204h1m259-281h1m-244 254h1m422-451h1m-476 460h1m257-239h1m-219 222h1m123-126h1m-56 63h1m221-230h1m-264 250h1m156-175h1m164-126h1m-367 376h1m204-240h1m-203 234h1m246-255h1m43-51h1m-313 254h1m322-281h1m-211 210h1m-13 73h1m304-358h1m-309 306h1m-67 42h1m45-26h1m270-254h1m82-101h1m-342 284h1m56 30h1m32-47h1m114-125h1m-287 326h1m271-287h1m129-162h1m-306 316h1m27 5h1m261-296h1m-292 288h1m6 27h1m197-228h1m-194 168h1m75-60h1m-142 117h1m167-119h1m-148 89h1m200-138h1m-156 99h1m239-200h1m-218 182h1m166-137h1m-177 206h1m87-91h1m-139 152h1m89-129h1m34-30h1m-163 166h1m118-111h1m193-213h1m-298 334h1m78-104h1m164-156h1m-185 180h1m-114 122h1m132-172h1m-20 26h1m236-240h1m-157 163h1m56-53h1m-155 178h1m224-262h1m-16 80h1m-306 251h1m205-176h1m133-147h1m-178 112h1m240-190h1m-333 376h1m63-160h1m14 57h1m-104 58h1m200-182h1m-142 154h1m60-106h1m85-43h1m-37 21h1m-227 213h1m10 36h1m298-266h1m-111 62h1m-167 176h1m-16-5h1m107-123h1m-91 115h1m334-327h1m-323 312h1m331-329h1m-159 145h1m-39 100h1m2-93h1m31 12h1m-149 152h1m61-72h1m-151 108h1m-7 5h1m396-362h1m-75 78h1m-69 45h1m-239 225h1m194-148h1m43-38h1m-131 97h1m-21 16h1m138-134h1m-196 290h1m102-173h1m-78 63h1m73-46h1m52-26h1m-59 36h1m185-236h1m12 6h1m-80 72h1m19-18h1m-143 118h1m-68 85h1m215-221h1m-250 276h1m150-161h1m0-31h1m-188 162h1m46-7h1m177-151h1m97-103h1m-213 203h1m10-88h1m108-40h1m-60 51h1m-41 49h1m58-76h1m40-24h1m45-49h1m-76 148h1m17-65h1m-174 152h1m-8 11h1m246-246h1m-227 232h1m59-75h1m215-206h1m-286 316h1m176-191h1m-160 151h1m141-122h1m81-107h1m-8-11h1m-33 17h1m-109 121h1m16-2h1m-115 127h1m-6 26h1m203-247h1m-252 235h1m383-350h1m-318 344h1m170-214h1m-103 119h1m72-52h1m53-78h1m-183 174h1m201-232h1m-12 67h1m-85 75h1m-9-4h1m-77 61h1m313-311h1m-309 314h1m-47 46h1m120-92h1m176-217h1m19 11h1m-203 186h1m-52 82h1m117-167h1m-72 96h1m130-120h1m-3-15h1m-87 56h1m207-182h1m-213 226h1m210-233h1m-231 211h1m-135 169h1m127-154h1m81-50h1m-165 122h1m-93 65h1m72-37h1m196-151h1m-244 192h1m-42 67h1m334-331h1m85-97h1m-89 110h1m-50 37h1m-36 41h1m-102 53h1m42-40h1m36-51h1m-141 185h1m-39 36h1m184-163h1m-32 48h1m253-287h1m-344 337h1m8 10h1m-71 106h1m-68-9h1m56-10h1m136-161h1m230-228h1m-373 399h1m-13-38h1m182-179h1m-120 159h1m-84 63h1m328-331h1m-304 302h1m96-80h1m121-141h1m22-4h1m127-137h1m-206 234h1m-145 149h1m-25 13h1m170-202h1m-41 47h1m-107 85h1m27 77h1m8-102h1m-9 30h1m30-10h1m-39-36h1m169-147h1m-120 124h1m173-179h1m-171 154h1m-64 78h1m305-277h1m-162 162h1m92-107h1m-248 247h1m357-371h1m-212 238h1m-99 95h1m-61 17h1m-25 62h1m-25 11h1m39-49h1m27-40h1m80-69h1m-53 42h1m-84 123h1m24-28h1m-36 33h1m-3-14h1m69-75h1m148-95h1m-215 114h1m333-261h1m108-122h1m-260 258h1m-193 174h1m40-32h1m94-116h1m234-221h1m67-54h1m-209 178h1m113-73h1m-307 331h1m68-187h1m10 33h1m-61 107h1m113-118h1m-3 0h1m252-252h1m-400 419h1m66-66h1m-24 53h1m-13-42h1m39-17h1m-18-50h1m322-280h1m-332 298h1m85-18h1m-83 119h1m-13-44h1m-30-26h1m135-99h1m-92 94h1m-5 9h1m91-72h1m-154 158h1m286-354h1m-272 351h1m77-135h1m341-332h1m-390 435h1m-60 8h1m121-147h1m58-53h1m-78 106h1m-39 63h1m169-167h1m-61 27h1m-92 82h1m120-73h1m91-134h1m-133 173h1m-59 30h1m82-84h1m-50 37h1m-120 134h1m320-335h1m-330 313h1m229-211h1m-134 119h1m157-137h1m-118 115h1m133-141h1m-158 156h1m-74 71h1m218-181h1m17-48h1m-158 142h1m230-220h1m-134 149h1m136-152h1m-330 326h1m339-337h1m-123 128h1m124-124h1m-289 295h1m47-97h1m186-163h1m-148 107h1m-102 177h1m3 5h1m304-323h1m-181 170h1m-190 223h1m38-77h1m98-102h1m-143 99h1m99-74h1m83-75h1m-177 216h1m57-38h1m238-294h1m-318 335h1m16-20h1m256-277h1m-87 63h1m-74 89h1m179-182h1m-260 270h1m-55 58h1m291-289h1m-88 86h1m-102 118h1m67-103h1m-136 185h1m28-105h1m112-64h1m136-133h1m-237 208h1m-89 59h1m42 29h1m42-83h1m131-96h1m33-36h1m-13-3h1m101-102h1m-99 118h1m-12-1h1m-48 19h1m42-19h1m32-27h1m181-190h1m-384 387h1m153-163h1m-175 174h1m10-35h1m324-313h1m-236 280h1m36-81h1m-110 129h1m75-118h1m-129 169h1m163-187h1m244-199h1m-201 153h1m-11 10h1m-26 66h1m-77 86h1m145-213h1m-138 179h1m-9 25h1m46-99h1m279-246h1m-191 175h1m-34 23h1m-184 191h1m256-253h1m-181 151h1m118-36h1m-57-1h1m101-104h1m-249 288h1m1-32h1m72-33h1m-47 1h1m175-162h1m-196 191h1m-7 8h1m132-143h1m-145 146h1m279-249h1m-213 165h1m-7 10h1m106-99h1m250-239h1m-352 357h1m-10 26h1m11-76h1m187-147h1m104-111h1m-345 336h1m-27 41h1m47-109h1m35 27h1m162-168h1m-49 17h1m45-19h1m-122 163h1m-15-37h1m272-256h1m-386 370h1m-17-2h1m-4-1h1m301-278h1m-120 156h1m65-81h1m-35 4h1m95-65h1m-141 120h1m-78 61h1m-48 80h1m71-109h1m-80 55h1m351-291h1m-134 88h1m-162 208h1m48-101h1m2 33h1m49-53h1m203-205h1m-349 290h1m148-88h1m-43 43h1m247-255h1m-343 347h1m160-138h1m-208 164h1m157-129h1m234-251h1m-161 176h1m-228 241h1m436-441h1m-280 284h1m9-22h1m213-210h1m-229 193h1m-97 149h1m42-88h1m131-130h1m-123 162h1m-82 59h1m80-53h1m-126 45h1m25 28h1m-7-19h1m126-117h1" stroke="#F545F5" stroke-width="9.0" stroke-linecap="round" fill="none" opacity="1.0"/>
<path transform="scale(.1)" d="M5626 1884h1m137 34h1m-36-62h1m-59 30h1m-18-16h1m22 17h1m109-29h1m-74 89h1m-12-137h1m39 61h1m-24-5h1m9-8h1m24-24h1m-21 17h1m26 25h1m-101 20h1m59 72h1m-21-91h1m22 26h1m-9 0h1m-29-134h1m13 210h1m61-94h1m-73-57h1m-35 12h1m88-14h1m18 124h1m-61-15h1m18-78h1m-48 45h1m30-99h1m62 73h1m-16 2h1m-32-12h1m-21 35h1m-67-20h1m93 39h1m6-31h1m28 22h1m45-37h1m-80 83h1m27 3h1m-101-96h1m111 12h1m-17 58h1m23-36h1m-34 41h1m-12-152h1m48 177h1m-104-161h1m62 124h1m20-61h1m-91 34h1m-18 6h1m75-65h1m-16 6h1m23 54h1m0 30h1m-68-146h1m52 33h1m37 62h1m-73 21h1m3-29h1m-42 11h1m93-55h1m53 106h1m-160-48h1m101 39h1m6-103h1m-71-24h1m8 93h1m-33-31h1m11-43h1m45 84h1m22 32h1m-27-98h1m35 27h1m-32 35h1m-67-82h1m124 60h1m-13 99h1m-92-104h1m118 19h1m-64-95h1m-17 93h1m85 10h1m-213-32h1m42 9h1m110 82h1m-47-75h1m-34 22h1m116-86h1m-49-49h1m-86 174h1m29-8h1m71-6h1m44-9h1m-183 1h1m107-36h1m-31-51h1m-66 118h1m74 11h1m-69 15h1m50-145h1m102-11h1m-54 141h1m12 5h1m-10-87h1m-12-47h1m28 4h1m-103 40h1m37-24h1m58 17h1m-77 44h1m13-121h1m78 93h1m14 55h1m-103-32h1m-11 53h1m66-76h1m-16-54h1m-46 117h1m60-118h1m-3-48h1m-24 85h1m136 75h1m-77-15h1m-27-25h1m9 46h1m92-1h1m-90-49h1m-88-4h1m48-38h1m-12 88h1m-32-151h1m39 40h1m-2 9h1m-16 75h1m-21-117h1m62 102h1m-118-106h1m116 37h1m-40 97h1m11-22h1m-128-115h1m194 43h1m-165 57h1m41-18h1m71 1h1m-61 47h1m9-28h1m-89 23h1m85-12h1m30-44h1m22 70h1m-48-82h1m24 30h1m9-32h1m-54-6h1m-5-18h1m130 30h1m-137-3h1m100 43h1m-57-37h1m66 73h1m-102-33h1m54-49h1m-10 40h1m-28-25h1m25 74h1m-53-119h1m32 96h1m-16-48h1m55 20h1m-42-47h1m-64 65h1m48 31h1m13 44h1m-40-79h1m106 44h1m-45-85h1m20-45h1m-79 181h1m17-46h1m67-79h1m-119-46h1m86 46h1m-14-1h1m-30-9h1m28-3h1m-58-53h1m62 51h1m-70 92h1m-4-38h1m128-34h1m-103 50h1m-69-27h1m148 13h1m-85 9h1m-134-69h1m167 54h1m46 34h1m-29-18h1m65-37h1m-90-103h1m34 92h1m-78-61h1m55 49h1m65 131h1m-50-125h1m-18 61h1m-104 24h1m76-13h1m-45-142h1m99 166h1m-74-47h1m52-88h1m-67 25h1m139 117h1m-149-79h1m62 20h1m120-16h1m-118-47h1m-54 66h1m71-13h1m17-88h1m-6 164h1m-139-73h1m105-42h1m-115 85h1m194-30h1m-89 34h1m-27-73h1m54 38h1m-10-69h1m-82-12h1m135 48h1m-91 21h1m-75-31h1m152 10h1m6 63h1m-15-114h1m-35 42h1m-71-28h1m88 107h1m44-111h1m-52-61h1m37 74h1m-116 102h1m86-73h1m-5 5h1m-119-14h1m-8 22h1m44-36h1m38 48h1m17-35h1m-34 46h1m6-39h1m-3-45h1m9 74h1m23-57h1m-5 77h1m-28-26h1m14-7h1m-35-73h1m60 100h1m-65-99h1m104 133h1m-82-64h1m13-54h1m-51 11h1m19 85h1m24 11h1m-8-105h1m-33 106h1m-27-91h1m58 55h1m4-26h1m19-115h1m33 38h1m-78 35h1m-83 110h1m90-84h1m-84 13h1m26 8h1m112-72h1m-24 152h1m-60-101h1m0 10h1m25 43h1m-82-123h1m108 149h1m-41-64h1m106-3h1m-143 113h1m100-38h1m-84-23h1m83-87h1m-99-8h1m83 17h1m-59 18h1m-20 121h1m32-120h1m30 37h1m-4-84h1m56-9h1m-38-44h1m-170 76h1m108-6h1m-79 92h1m78-55h1m48 66h1m-97-107h1m7 105h1m64-49h1m-22 30h1m90-17h1m-62-47h1m9 51h1m59-39h1m-112 61h1m24-119h1m-50 101h1m61-82h1m37-56h1m15 228h1m-70-72h1m-34-39h1m-4-69h1m-31 82h1m73-43h1m60 56h1m-184-65h1m8 89h1m175-102h1m-149 191h1m94-55h1m-79-186h1m99 83h1m0 53h1m-32-155h1m32 58h1m-39-4h1m24 78h1m61-53h1m-37 6h1m-87 108h1m-8-112h1m27 39h1m-1-74h1" stroke="#F545F5" stroke-width="8.4" stroke-linecap="round" fill="none" opacity="1.0"/>
<path transform="scale(.1)" d="M5779 1911h1m-98 126h1m1-167h1m38 13h1m23 11h1m-55 73h1m14-19h1m35-5h1m-10-62h1m36 82h1m-47-137h1m-58 61h1m-45 143h1m128-217h1m-58 86h1m-2 40h1m2-37h1m-65 108h1m58-113h1m-112 149h1m109-81h1m-25-133h1m136 5h1m-71 90h1m-34 35h1m18-106h1m27 55h1m-75-15h1m25-23h1m-7 96h1m142-105h1m-123 163h1m-104-201h1m139 171h1m89-53h1m-180 2h1m223-79h1m-180-1h1m53 22h1m-80-10h1m14 4h1m-50 30h1m8 104h1m-56 22h1m165 0h1m-117-127h1m76 10h1m-3-5h1m-50-20h1m34 26h1m-8 43h1m-22 28h1m27 23h1m-1-176h1m-55 17h1m-15 128h1m21-61h1m48-40h1m63-65h1m4 124h1m-60-44h1m31-56h1m-42 164h1m48-57h1m-50-39h1m12 39h1m-35-161h1m13 71h1m96 38h1m-159 65h1m60-103h1m-31 13h1m78 65h1m42-4h1m-109 58h1m-126-79h1m171-53h1m-1-8h1m-118 24h1m73-14h1" stroke="#4A63F5" stroke-width="8.4" stroke-linecap="round" fill="none" opacity="1.0"/>
<path transform="scale(.1)" d="M5767 1781h1m-118 181h1m367-439h1m-246 367h1m-20-97h1m73 74h1m78-118h1m52-123h1m-231 333h1m66-78h1m-111 44h1m202-163h1m274-309h1m-120 24h1m65 10h1m-35 68h1m-221 290h1m63-274h1m-2 190h1m-129-14h1m354-188h1m-133 66h1m-65 9h1m-154 171h1m290-289h1m-81 72h1m12 84h1m183-211h1m-144 21h1m-219 374h1m-59-99h1m395-300h1m-114 137h1m86-98h1m-282 312h1m287-312h1m-264 261h1m192-285h1m110 45h1m-344 182h1m4 51h1m-3-103h1m-167 110h1m-20 189h1m535-511h1m-87 168h1m-325 303h1m107-294h1m-99 266h1m223-407h1m-150 271h1m-123 235h1m280-462h1m176-121h1m-184 109h1m8 35h1m-424 357h1m197-79h1m274-302h1m-116 114h1m-231 320h1m103-187h1m-19 36h1m250-268h1m-30 23h1m-76 87h1m86-26h1m1 7h1m84-101h1m-417 279h1m76 22h1m250-388h1m-67 149h1m-9-106h1m52-5h1m-19 104h1m-118 276h1m44-78h1m-58 86h1m-205 37h1m193-255h1m117-180h1m-253 431h1m-72-50h1m99-94h1m313-203h1m-90-115h1m-189 348h1m285-283h1m-187 266h1m117-161h1m-52-52h1m-111 240h1m150-181h1m122-147h1m-279 390h1m-23-167h1m208-188h1m38 52h1m-299 103h1m21 281h1m24-136h1m78-206h1m143-42h1m-10 46h1m-133 75h1m265-242h1m-193 144h1m136-70h1m-339 418h1m-125-24h1m494-402h1m-131 5h1m-321 299h1m39-25h1m-62 173h1m226-199h1m156-347h1m-312 368h1m37 24h1m167-219h1m-185 309h1m-58-58h1m382-275h1m67-23h1m-51 24h1m-530 402h1m237-209h1m137-156h1m-108 261h1" stroke="#F545F5" stroke-width="8.0" stroke-linecap="round" fill="none" opacity="1.0"/>
<path transform="scale(.1)" d="M5858 1728h1m59 15h1m-146 86h1m7 16h1m17-13h1m109-151h1m46-4h1m-16-13h1m-133 135h1m-71 43h1m156-89h1m51-111h1m-36 38h1m-84 86h1m-27 65h1m103-225h1m57 43h1m-180 155h1m156-143h1m-10 6h1m2-36h1m-111 140h1m-29 36h1m-26 45h1m39 29h1m106-194h1m-105 113h1m109-104h1m-167 58h1m159-40h1" stroke="#45E845" stroke-width="8.0" stroke-linecap="round" fill="none" opacity="1.0"/>
<path transform="scale(.1)" d="M5763 1828h1m-80 167h1m41-73h1m-49 84h1m157-163h1m-74 41h1m38 2h1m-53-57h1m-5-17h1m-28 34h1m-21 90h1m42 41h1m-24-15h1m-17 39h1m-62-198h1m53 111h1m45-17h1m-56-4h1m41-102h1m-26 144h1m-46-97h1m6 49h1m7 25h1m22 98h1m0-158h1m69 93h1m-112-16h1m-50-38h1m137 7h1m-59-57h1m16 100h1m134-47h1m-56-6h1m-45 14h1m17-36h1m-42 52h1m41-82h1m-80 107h1m-6 41h1m11-78h1m102-68h1m-2 94h1m-110 6h1m88-15h1m-67-29h1m61 19h1m-71-27h1m63 113h1m-55-179h1m-10 51h1m13 80h1m8-124h1m-38 51h1m-41-57h1m153 148h1m-106-158h1m-73 90h1m-24 117h1m-28-156h1m110 58h1" stroke="#4A63F5" stroke-width="8.4" stroke-linecap="round" fill="none" opacity="1.0"/>
<path transform="scale(.1)" d="M5648 2072h1m106 0h1m64 0h1m-182 0h1m194 0h1m-158 0h1m22 0h1m-76 0h1m-55 0h1m35 0h1m15 0h1m59 0h1m17 0h1m111 0h1m-156 0h1m129 0h1m-165 0h1m71 0h1m-130 0h1m260 0h1m-173 0h1m91 0h1m-26 0h1m-25 0h1m-81 0h1m187 0h1m-114 0h1m-110 0h1m-11 0h1m128 0h1m19 0h1m-94 0h1m-14 0h1m189 0h1m-47 0h1m-174 0h1m211 0h1m-241 0h1m251 0h1m-3 0h1m-229 0h1m276 0h1m-30 0h1m-232 0h1m151 0h1m-61 0h1m-104 0h1m19 0h1m-1 0h1m148 0h1m-33 0h1m126 0h1m-213 0h1m55 0h1m-36 0h1m2 0h1m64 0h1m63 0h1m-33 0h1m-183 0h1m50 0h1m111 0h1m43 0h1m32 0h1m-163 0h1m31 0h1m-133 0h1m150 0h1m-70 0h1m70 0h1m23 0h1m-138 0h1m-32 0h1m203 0h1m2 0h1m84 0h1m-156 0h1m-140 0h1m2 0h1m284 0h1m-76 0h1m-183 0h1m81 0h1m-73 0h1m184 0h1m-15 0h1m61 0h1m-87 0h1m-82 0h1m162 0h1m-170 0h1m111 0h1m-166 0h1m18 0h1m103 0h1m-100 0h1m180 0h1m-111 0h1m131 0h1m-106 0h1m-9 0h1m-23 0h1m-101 0h1m49 0h1m174 0h1m-71 0h1m28 0h1m-114 0h1m-69 0h1m188 0h1m-121 0h1m114 0h1m-228 0h1m90 0h1m94 0h1m89 0h1m-235 0h1m249 0h1m-99 0h1m-153 0h1" stroke="#F545F5" stroke-width="10.0" stroke-linecap="round" fill="none" opacity="1.0"/>
<path transform="scale(.1)" d="M5549 2074h1m-1-224h1m-1 62h1m-1-12h1m-1 76h1m-1 80h1m-1-96h1m-1-40h1m-1 90h1m-1-168h1m-1 46h1m-1 185h1m-1-67h1m-1-150h1m-1 38h1m-1-13h1m-1 151h1m-1-171h1m-1 55h1m-1 63h1m-1-69h1m-1 108h1m-1-161h1m-1 202h1m-1-47h1m-1-111h1m-1 74h1m-1-114h1m-1 14h1m-1 36h1m-1 78h1m-1-19h1m-1 27h1m-1 4h1m-1 74h1m-1-61h1m-1-107h1m-1 38h1m-1 52h1m-1 1h1m-1 36h1m-1 25h1m-1-19h1m-1-115h1m-1-76h1m-1 60h1m-1 84h1m-1-53h1m-1 105h1m-1 13h1m-1 5h1m-1-124h1m-1-5h1m-1 106h1m-1-194h1m-1 197h1m-1-90h1m-1-35h1m-1 152h1m-1-59h1" stroke="#F545F5" stroke-width="10.0" stroke-linecap="round" fill="none" opacity="1.0"/>
<path transform="scale(.1)" d="M5674 2072h1m35 0h1m0 0h1m-6 0h1m-146 0h1m-5 0h1m197 0h1m-177 0h1m52 0h1m117 0h1m-197 0h1m199 0h1m-51 0h1m-67 0h1m-37 0h1m68 0h1m74 0h1m-154 0h1m10 0h1m61 0h1m75 0h1m-97 0h1m-3 0h1m135 0h1m-106 0h1m60 0h1m-28 0h1m-32 0h1m-29 0h1m53 0h1" stroke="#4A63F5" stroke-width="10.0" stroke-linecap="round" fill="none" opacity="1.0"/>
<path transform="scale(.1)" d="M5549 1873h1m-1 170h1m-1-31h1m-1 14h1m-1-147h1m-1 119h1m-1-30h1m-1-16h1m-1-109h1m-1 234h1m-1-45h1m-1-168h1m-1 102h1m-1 22h1m-1-142h1m-1 206h1m-1 22h1m-1-219h1m-1 21h1m-1 70h1m-1 67h1m-1-126h1m-1 152h1m-1-66h1m-1 63h1m-1-58h1m-1 99h1m-1-112h1m-1 2h1m-1-131h1" stroke="#4A63F5" stroke-width="10.0" stroke-linecap="round" fill="none" opacity="1.0"/>
<line x1="554.30" y1="108.20" x2="554.30" y2="208.60" stroke="#000" stroke-width="1.6" />
<line x1="550.90" y1="207.80" x2="554.30" y2="207.80" stroke="#000" stroke-width="1.25" />
<text x="549.70" y="210.00" font-size="6.5" text-anchor="end" fill="#111" font-weight="bold" letter-spacing="-0.25">0</text>
<line x1="550.90" y1="183.20" x2="554.30" y2="183.20" stroke="#000" stroke-width="1.25" />
<text x="549.70" y="185.40" font-size="6.5" text-anchor="end" fill="#111" font-weight="bold" letter-spacing="-0.25">5</text>
<line x1="550.90" y1="158.60" x2="554.30" y2="158.60" stroke="#000" stroke-width="1.25" />
<text x="549.70" y="160.80" font-size="6.5" text-anchor="end" fill="#111" font-weight="bold" letter-spacing="-0.25">10</text>
<line x1="550.90" y1="134.00" x2="554.30" y2="134.00" stroke="#000" stroke-width="1.25" />
<text x="549.70" y="136.20" font-size="6.5" text-anchor="end" fill="#111" font-weight="bold" letter-spacing="-0.25">15</text>
<line x1="550.90" y1="109.40" x2="554.30" y2="109.40" stroke="#000" stroke-width="1.25" />
<text x="549.70" y="111.60" font-size="6.5" text-anchor="end" fill="#111" font-weight="bold" letter-spacing="-0.25">20</text>
<line x1="553.50" y1="207.80" x2="652.40" y2="207.80" stroke="#000" stroke-width="1.6" />
<line x1="554.30" y1="207.80" x2="554.30" y2="211.60" stroke="#000" stroke-width="1.25" />
<text x="554.30" y="216.90" font-size="6.5" text-anchor="middle" fill="#111" font-weight="bold" letter-spacing="-0.25">0</text>
<line x1="578.90" y1="207.80" x2="578.90" y2="211.60" stroke="#000" stroke-width="1.25" />
<text x="578.90" y="216.90" font-size="6.5" text-anchor="middle" fill="#111" font-weight="bold" letter-spacing="-0.25">5</text>
<line x1="603.50" y1="207.80" x2="603.50" y2="211.60" stroke="#000" stroke-width="1.25" />
<text x="603.50" y="216.90" font-size="6.5" text-anchor="middle" fill="#111" font-weight="bold" letter-spacing="-0.25">10</text>
<line x1="628.10" y1="207.80" x2="628.10" y2="211.60" stroke="#000" stroke-width="1.25" />
<text x="628.10" y="216.90" font-size="6.5" text-anchor="middle" fill="#111" font-weight="bold" letter-spacing="-0.25">15</text>
<line x1="652.70" y1="207.80" x2="652.70" y2="211.60" stroke="#000" stroke-width="1.25" />
<text x="652.70" y="216.90" font-size="6.5" text-anchor="middle" fill="#111" font-weight="bold" letter-spacing="-0.25">20</text>
<text x="609.8" y="229.2" font-size="7.1" font-weight="bold" text-anchor="middle" fill="#111">log<tspan font-size="62%" dy="1.8">2</tspan><tspan dy="-1.8"> promoter activity in rep1 [A.U.]</tspan></text>
<text transform="translate(535.4,157.6) rotate(-90)" x="0" y="2.4" font-size="7.1" font-weight="bold" text-anchor="middle" fill="#111">log<tspan font-size="62%" dy="1.8">2</tspan><tspan dy="-1.8"> promoter activity in rep2 [A.U.]</tspan></text>
<circle cx="561.3" cy="110.20" r="0.9" fill="#465FFF"/>
<text x="564.9" y="112.70" font-size="7.1" fill="#333">Group I (r = 0.52)</text>
<circle cx="561.3" cy="119.60" r="0.9" fill="#4BF04B"/>
<text x="564.9" y="122.10" font-size="7.1" fill="#333">Group II (r = 0.83)</text>
<circle cx="561.3" cy="129.00" r="0.9" fill="#FF6EFF"/>
<text x="564.9" y="131.50" font-size="7.1" fill="#333">Group III (r = 0.86)</text>
<text transform="translate(16.10,260.30) scale(0.84,1)" font-size="10.2" font-weight="bold" fill="#000" stroke="#000" stroke-width="0.3">F</text>
<text x="72.30" y="278.60" font-size="7.1" text-anchor="middle" fill="#333" >Multi-gene operons</text>
<text x="70.30" y="288.30" font-size="7.1" text-anchor="middle" fill="#333" >(1,149 operons, 3,447 genes)</text>
<text x="170.70" y="278.60" font-size="7.0" text-anchor="middle" fill="#333" >Single genes</text>
<text x="169.50" y="288.50" font-size="7.0" text-anchor="middle" fill="#333" >(2,094 genes)</text>
<line x1="27.90" y1="307.90" x2="134.50" y2="307.90" stroke="#555" stroke-width="1.3" />
<rect x="41.20" y="304.60" width="7.90" height="6.20" fill="#A8DDB9" opacity="0.75"/>
<path d="M49.10,305.00 L61.50,305.00 L61.50,301.70 L71.70,307.70 L61.50,313.70 L61.50,310.40 L49.10,310.40 Z" fill="#16A9E4"/>
<path d="M72.30,305.00 L80.00,305.00 L80.00,301.70 L88.00,307.70 L80.00,313.70 L80.00,310.40 L72.30,310.40 Z" fill="#16A9E4"/>
<path d="M89.90,305.00 L102.50,305.00 L102.50,301.70 L112.50,307.70 L102.50,313.70 L102.50,310.40 L89.90,310.40 Z" fill="#16A9E4"/>
<path d="M113.00,305.00 L121.50,305.00 L121.50,301.70 L130.00,307.70 L121.50,313.70 L121.50,310.40 L113.00,310.40 Z" fill="#16A9E4"/>
<path d="M44.7,308.2 L44.7,297.3 L50.6,297.3" fill="none" stroke="#222" stroke-width="1.1"/>
<path d="M55.9,297.3 L49.4,294.0 L51.0,297.3 L49.4,300.8 Z" fill="#111"/>
<line x1="146.20" y1="308.30" x2="198.90" y2="308.30" stroke="#555" stroke-width="1.3" />
<rect x="158.20" y="305.10" width="7.40" height="5.60" fill="#FAD2A0" opacity="0.7"/>
<path d="M165.60,305.10 L178.10,305.10 L178.10,301.70 L188.20,307.90 L178.10,314.10 L178.10,310.70 L165.60,310.70 Z" fill="#16A9E4"/>
<path d="M161.9,308.3 L161.9,298.1 L167.2,298.1" fill="none" stroke="#222" stroke-width="1.1"/>
<path d="M172.9,298.1 L166.3,294.6 L167.9,298.1 L166.3,301.6 Z" fill="#111"/>
<line x1="10.20" y1="333.60" x2="191.20" y2="333.60" stroke="#999" stroke-width="0.6" stroke-dasharray="1.8,0.9"/>
<line x1="10.20" y1="350.20" x2="191.20" y2="350.20" stroke="#999" stroke-width="0.6" stroke-dasharray="1.8,0.9"/>
<line x1="72.60" y1="298.00" x2="72.60" y2="379.00" stroke="#999" stroke-width="0.5" stroke-dasharray="1.2,1.2"/>
<text x="14.6" y="328.00" font-size="7.0" fill="#333">group <tspan fill="#a8a8a8" font-size="6.6" font-weight="bold" dy="-0.3">I</tspan></text>
<text x="56.40" y="328.10" font-size="7.0" text-anchor="middle" fill="#333" >12</text>
<text x="87.60" y="328.10" font-size="7.0" text-anchor="middle" fill="#333" >1,756</text>
<text x="170.00" y="328.70" font-size="7.0" text-anchor="middle" fill="#333" >34</text>
<text x="14.6" y="343.90" font-size="7.0" fill="#333">group <tspan fill="#a8a8a8" font-size="6.6" font-weight="bold" dy="-0.3">II</tspan></text>
<text x="56.40" y="344.90" font-size="7.0" text-anchor="middle" fill="#333" >355</text>
<text x="87.60" y="344.90" font-size="7.0" text-anchor="middle" fill="#333" >542</text>
<text x="170.00" y="345.50" font-size="7.0" text-anchor="middle" fill="#333" >754</text>
<text x="14.6" y="360.60" font-size="7.0" fill="#333">group <tspan fill="#a8a8a8" font-size="6.6" font-weight="bold" dy="-0.3">III</tspan></text>
<text x="56.40" y="361.60" font-size="7.0" text-anchor="middle" fill="#333" >782</text>
<text x="87.60" y="361.60" font-size="7.0" text-anchor="middle" fill="#333" >0</text>
<text x="170.00" y="362.20" font-size="7.0" text-anchor="middle" fill="#333" >1,306</text>
<text x="57.50" y="377.70" font-size="7.0" text-anchor="middle" fill="#333" >start</text>
<text x="90.00" y="377.70" font-size="7.0" text-anchor="middle" fill="#333" >included</text>
<text transform="translate(215.50,259.10) scale(0.84,1)" font-size="10.2" font-weight="bold" fill="#000" stroke="#000" stroke-width="0.3">G</text>
<path d="M245.40,344.70 L249.00,339.30 L253.50,335.70 L258.00,332.10 L262.50,328.00 L267.00,324.90 L270.00,321.40 L274.00,318.20 L278.00,315.40 L282.00,313.00 L286.00,310.60 L290.00,308.20 L294.00,304.60 L296.40,302.60 L298.50,300.80 L297.50,303.50 L294.00,307.80 L290.00,313.40 L286.00,318.20 L282.00,322.20 L278.00,326.20 L274.00,330.20 L270.00,333.30 L267.00,338.20 L262.50,344.40 L258.00,350.00 L254.50,353.80 L250.00,355.00 L246.50,353.60 L244.60,349.50 Z" fill="#9A9A9A"/>
<path transform="scale(.1)" d="M2525 3363h1m-6 188h1m-21 1h1m342-353h1m-327 169h1m353-195h1m-297 347h1m-115 14h1m5-117h1m-21 124h1m510-473h1m4-54h1m-241 305h1m-198 230h1m137-146h1m303-384h1m-30 27h1m-409 497h1m225-377h1m-182 155h1m312-166h1m-307 351h1m247-394h1m-147 111h1m70 106h1m-182-10h1m154-134h1m-102 300h1m68-274h1m-94 342h1m114-361h1m194-153h1m-200 291h1m-128 172h1m193-356h1m277-114h1m-114 137h1m-432 169h1m-48 207h1m69 16h1m264-495h1m129 26h1m-333 393h1m317-347h1m36-194h1m-328 324h1m-8 187h1m-162-25h1m318-163h1m12-12h1m-108 106h1m-221 59h1m315-148h1m-311 272h1m180-108h1m57-105h1m-211 46h1m74 126h1m293-332h1m-369 381h1m407-419h1m-310 352h1m-71 60h1m440-502h1m-484 534h1m105-282h1m56 120h1m215-326h1m-315 244h1m-83 79h1m399-240h1m-195 59h1m-17 172h1m306-362h1m-288 333h1m-135-38h1m16-7h1m186-31h1m-320 191h1m19-94h1m-28 60h1m318-151h1m-97 104h1m-71-94h1m422-348h1m-449 650h1m341-472h1m-454 333h1m534-477h1m-62 117h1m-180 43h1m203-119h1m-109 68h1m-152 386h1m-177 56h1m-49-19h1m95-7h1m469-575h1m-306 230h1m-341 243h1m447-320h1m34-5h1m127-82h1m-247 282h1m155-224h1m-424 333h1m253-85h1m109-210h1m89-64h1m-493 456h1m328-198h1m-198 214h1m-101-106h1m586-382h1m-122 55h1m-344 406h1m168-197h1m-208 239h1m201-252h1m86-59h1m-128 100h1m-150-6h1m-15 215h1m65-259h1m56 118h1m-190 190h1m334-364h1m-28 27h1m-362 238h1m503-398h1m-176 199h1m-248 80h1m179-154h1m66 65h1m-293 132h1m147 44h1m326-326h1m-372 186h1m259-105h1m-358 388h1m-36-151h1m542-439h1m-207 139h1m-29 145h1m-58 51h1m-198 34h1m64 142h1m9-195h1m206-225h1m-344 408h1m543-463h1m-41 116h1m-286 91h1m-163 313h1m416-514h1m-470 461h1m-45-50h1m127 96h1m320-362h1m-224 76h1m65-92h1m31 138h1m52-164h1m-56 39h1m174-45h1m-292 145h1m-107 275h1m102-267h1m222-174h1m213-137h1m-356 377h1m202-277h1m-48-31h1m-83 301h1m-287 187h1m325-409h1m133-36h1m-117 29h1m-373 391h1m378-248h1m-140-54h1m133 13h1m-287 127h1m299-242h1m-352 234h1m147 95h1m252-452h1m-33 200h1m-409 258h1m386-233h1m2-3h1m-384 305h1m191-87h1m-14-192h1m220-47h1m70-137h1m-12 11h1m-62 45h1m17 70h1m-359 380h1m-54-134h1m404-330h1m-174 117h1m228-152h1m-413 237h1m300-53h1m98-107h1m-46-45h1m93-65h1m-295 367h1m-49 70h1m-7 5h1m178-344h1m-115 259h1m197-287h1m-38 114h1m-393 278h1m358-350h1m163-122h1m-509 556h1m118-259h1m404-274h1m-176 82h1m-295 429h1m31-14h1m193-359h1m90 48h1m-370 309h1m40 14h1m-60-72h1m41 75h1m40-197h1m295-127h1m-184 207h1m43-204h1m264-196h1m-492 489h1m31 23h1m6 3h1m496-541h1m-377 272h1m356-233h1m-163 217h1m-106 64h1m-2-133h1m309-253h1m-508 424h1m320-251h1m-235 179h1m293-131h1m-106-17h1m17-18h1m166-115h1m-426 326h1m17 227h1m-72-210h1m198-1h1m-101-51h1m-132 115h1m201-14h1m228-202h1m-126-45h1m-152 308h1m164-316h1m193-144h1m-96 55h1m-423 469h1m447-467h1m0 9h1m-441 470h1m385-344h1m1-91h1m125-71h1m-426 514h1m347-473h1m-275 365h1m323-411h1m-300 221h1m-128 106h1m15 215h1m408-497h1m-506 365h1m215-191h1m-205 168h1m31-36h1m499-317h1m-538 468h1m34 19h1m489-543h1m-543 477h1m297-181h1m-13-117h1m83 46h1m14-114h1m-93 59h1m74 67h1m-117 103h1m309-372h1m-206 281h1m103-177h1m-260 349h1m-84-94h1m366-282h1m-67 130h1m115-176h1m-296 223h1m-60 308h1m-9-50h1m-105 64h1m315-332h1m91-95h1m15-16h1m57-109h1m-125 174h1m59-120h1m-189 117h1m151-8h1m-206 64h1m167-125h1m-33 123h1m-168 24h1m-93 278h1m139-181h1m-12 5h1m288-316h1m-59 72h1m-160 46h1m-318 310h1m507-404h1m-210 237h1m-301 200h1m50-110h1m483-260h1m-564 280h1m455-238h1m-179 178h1m284-320h1m-377 264h1m6 176h1m-171 15h1m467-414h1m-403 486h1m415-361h1m25-112h1m5-55h1m-252 181h1m153-107h1m-233 175h1m228-169h1m-81 164h1m-255 274h1m171-331h1m244-169h1m-406 302h1m245-78h1m-231 76h1m303-146h1m-324 343h1m39-24h1m66-50h1m-182 57h1m-9-47h1m291-305h1m210-96h1m-237 121h1m144-94h1m121-64h1m-266 148h1m123-78h1m-279 222h1m422-320h1m-285 331h1m-50 75h1m274-313h1m-29-27h1m-376 472h1m278-421h1m-284 232h1m92-77h1m333-214h1m-526 462h1m512-491h1m-400 506h1m52-51h1m-76 59h1m313-435h1m-137 235h1m-254 139h1m260-283h1m212-153h1m-217 287h1m-162 3h1m1-2h1m479-350h1m-509 379h1m417-201h1m-54-81h1m-47 29h1m-384 348h1m380-224h1m108-161h1m-70 100h1m74-162h1m-291 394h1m-16-152h1m293-161h1m-42-21h1m-293 219h1m302-137h1m-53 31h1m-399 250h1m404-188h1m98-190h1m-71 85h1m-28-56h1m70-50h1m-24 94h1m-282 129h1m66 85h1m225-244h1m-370 429h1m307-443h1m84-20h1m-312 188h1m-179 259h1m531-500h1m-312 215h1m192-211h1m-251 253h1m-169 158h1m408-253h1m7 22h1m-224 55h1m-210 243h1m35-87h1m87 107h1m257-291h1m42-134h1m-8 89h1m-126 158h1m69-103h1m223-191h1m-163 44h1m-412 413h1m523-526h1m-229 182h1m1 0h1m175-35h1m-345 176h1m108-93h1m-240 235h1m420-357h1m-75 159h1m159-228h1m-107 81h1m-252 188h1m-140 242h1m495-505h1m-31 69h1m-422 457h1m-1-176h1m387-303h1m-335 250h1m89 103h1m15-25h1m-96-86h1m205-47h1m-316 156h1m374-319h1m-219 348h1m-134-61h1m468-373h1m-420 329h1m67-59h1m98 48h1m345-347h1m-185 185h1m-148 150h1m57-20h1m-388 117h1m477-246h1m-386 202h1m575-362h1m-378 174h1m-227 249h1m258-249h1m4-75h1m-251 296h1m166-150h1m-125 285h1m-43-9h1m118-44h1m-87 55h1m345-445h1m103-137h1m-322 304h1m-15 195h1m-163 43h1m474-469h1m-175 112h1m117 14h1m-278 320h1m-150 13h1m412-407h1m-217 163h1m169-181h1m-178 352h1m-133 124h1m3-234h1m135-57h1m202-160h1m-56 32h1m-354 372h1m122-185h1m275-118h1m-48-67h1m-131 55h1m78 119h1m-303 183h1m458-355h1m-276 133h1m242-86h1m-123-10h1m-170 144h1m370-235h1m-431 284h1m-109 199h1m365-300h1m-201 248h1m-130 58h1m131-47h1m362-430h1m-318 360h1m-178 49h1m311-217h1m9-137h1m-207 436h1m205-300h1m193-269h1m-44 97h1m34-50h1m-54 74h1m-343 396h1m366-488h1m98-102h1m-226 191h1m-174 312h1m-60 78h1m294-427h1m-241 359h1m-192 30h1m453-400h1m36-29h1m13 23h1m-362 439h1m372-439h1m-308 180h1m340-258h1m-347 429h1m48-68h1m-56-99h1m-19 12h1m-10 11h1m-159 197h1m377-368h1m-364 313h1m43 148h1m453-472h1m-48-51h1m-155 232h1m188-251h1m-293 392h1m319-426h1m-503 410h1m551-468h1m-400 501h1m300-340h1m-77-4h1m-255 397h1m223-184h1m25-210h1m64 21h1m-31-34h1m85-77h1m-43 86h1m-314 185h1m248-192h1m-391 274h1m362-249h1m-400 408h1m548-526h1m-499 384h1m54 157h1m430-537h1m-375 294h1m282-211h1m-41 146h1m88-111h1m56-125h1m-327 452h1m-217 5h1m156 27h1m-42 54h1m-17 10h1m-68-143h1m177 7h1m322-404h1m-398 300h1m248-191h1m-208 159h1m186-42h1m98-183h1m-361 496h1m203-259h1m76-172h1m-353 187h1m457-179h1m-291 301h1m-159 130h1m482-513h1m-426 504h1m-103-35h1m172-55h1m290-319h1m-5-68h1m134-108h1m-83 58h1m-421 333h1m395-254h1m-461 447h1m-53-171h1m195-161h1m323-64h1m43-126h1m-320 215h1m156-8h1m-198 227h1m179-322h1m-60 201h1m120-242h1m-341 451h1m123-289h1m263-189h1m-482 456h1m76-178h1m-50 73h1m165-201h1m112-48h1m-21-16h1m-36 71h1m99 38h1m-197 225h1m113-146h1m-24 32h1m8-155h1m222-93h1m-328 179h1m157-133h1m-219 183h1m-89 143h1" stroke="#9A9A9A" stroke-width="9.0" stroke-linecap="round" fill="none" opacity="1.0"/>
<path transform="scale(.1)" d="M2594 3591h1m-125-9h1m-16 8h1m24-7h1m-16 1h1m19 4h1m88-1h1m-165 5h1m18-8h1m5 0h1m-5 12h1m153-10h1m-106 1h1m-7 1h1m68-5h1m-15 9h1m-93 0h1m10 1h1m79-5h1m-18 5h1m49 1h1m-28 1h1m-6-4h1m-123 4h1m120-5h1m-39 2h1m85-1h1m-101 5h1m-69-12h1m98 11h1m82-13h1m-52 1h1m22 9h1m0-7h1m-38 5h1m34 2h1m0 4h1m-127-2h1m-14-11h1m-10 5h1m97-5h1m21 4h1m22 5h1m39-1h1m-200-7h1m-1 2h1m-4-2h1m95 3h1m13-3h1m67 10h1" stroke="#9A9A9A" stroke-width="8.0" stroke-linecap="round" fill="none" opacity="1.0"/>
<path transform="scale(.1)" d="M2415 3474h1m-12 31h1m0-21h1m-1-75h1m0 186h1m-4-20h1m9-30h1m-11 5h1m0-102h1m8 10h1m-4-55h1m-7-10h1m2 79h1m6 68h1m-8-72h1m0-111h1m5 176h1m-11 30h1m8-80h1m-1-139h1m-10 143h1m7-33h1m-7-38h1m6 89h1m0 61h1m0-154h1m-6 94h1m4 21h1m-4-142h1m-2 99h1m-4-68h1m-3 175h1m9-35h1m-5-55h1m0-148h1m-7 75h1m8 23h1m-14-42h1m4 183h1m5-126h1" stroke="#9A9A9A" stroke-width="8.0" stroke-linecap="round" fill="none" opacity="1.0"/>
<path transform="scale(.1)" d="M2436 3492h1m91 95h1m-26-57h1m-23-6h1m36-46h1m-109 52h1m99-46h1m-62 86h1m-8-51h1m-19-5h1m1-38h1m1 13h1m22 20h1m-41 31h1m46-48h1m-52 83h1m107-61h1m-21 31h1m-60 30h1m5-46h1m25 53h1m55-54h1m-116 61h1m115-9h1m-68-33h1m7-23h1m-15-13h1m22 12h1m-52-33h1m-8 90h1m80 11h1m-85-94h1m66 88h1m-10-8h1m-65-28h1m74-31h1m-36-11h1m-40-6h1m2 26h1m77 14h1" stroke="#9A9A9A" stroke-width="8.0" stroke-linecap="round" fill="none" opacity="1.0"/>
<path transform="scale(.1)" d="M2961 3000h1m26-32h1m27-32h1m86-50h1" stroke="#9A9A9A" stroke-width="9.0" stroke-linecap="round" fill="none" opacity="1.0"/>
<circle cx="267.1" cy="298.8" r="1.2" fill="#F2401E"/>
<circle cx="281.4" cy="303.7" r="1.2" fill="#F2401E"/>
<circle cx="271.0" cy="309.9" r="1.2" fill="#F2401E"/>
<circle cx="273.2" cy="314.8" r="1.2" fill="#F2401E"/>
<circle cx="270.7" cy="317.3" r="1.2" fill="#F2401E"/>
<circle cx="263.8" cy="323.8" r="1.2" fill="#F2401E"/>
<circle cx="258.0" cy="329.9" r="1.2" fill="#F2401E"/>
<circle cx="255.2" cy="333.2" r="1.2" fill="#F2401E"/>
<circle cx="253.1" cy="334.8" r="1.2" fill="#F2401E"/>
<circle cx="296.6" cy="318" r="1.2" fill="#1446F0"/>
<circle cx="296.6" cy="322.9" r="1.2" fill="#1446F0"/>
<circle cx="287.9" cy="324.5" r="1.2" fill="#1446F0"/>
<circle cx="285.8" cy="327.8" r="1.2" fill="#1446F0"/>
<circle cx="288.7" cy="332" r="1.2" fill="#1446F0"/>
<circle cx="286.8" cy="332.7" r="1.2" fill="#1446F0"/>
<circle cx="283.5" cy="332.4" r="1.2" fill="#1446F0"/>
<circle cx="281.8" cy="332.4" r="1.2" fill="#1446F0"/>
<circle cx="281.4" cy="334.8" r="1.2" fill="#1446F0"/>
<circle cx="277.6" cy="335.3" r="1.2" fill="#1446F0"/>
<circle cx="283" cy="334.8" r="1.2" fill="#1446F0"/>
<circle cx="277.3" cy="338.1" r="1.2" fill="#1446F0"/>
<circle cx="290.7" cy="343.5" r="1.2" fill="#1446F0"/>
<circle cx="273.7" cy="341.3" r="1.2" fill="#1446F0"/>
<circle cx="276" cy="342.7" r="1.2" fill="#1446F0"/>
<circle cx="270.7" cy="343" r="1.2" fill="#1446F0"/>
<circle cx="268.8" cy="344.1" r="1.2" fill="#1446F0"/>
<circle cx="278.9" cy="346.3" r="1.2" fill="#1446F0"/>
<circle cx="270.4" cy="346.3" r="1.2" fill="#1446F0"/>
<circle cx="267.1" cy="345.1" r="1.2" fill="#1446F0"/>
<circle cx="265" cy="347.9" r="1.2" fill="#1446F0"/>
<circle cx="264.2" cy="349.5" r="1.2" fill="#1446F0"/>
<circle cx="265.8" cy="349.5" r="1.2" fill="#1446F0"/>
<circle cx="301" cy="347.6" r="1.2" fill="#1446F0"/>
<line x1="239.30" y1="268.40" x2="239.30" y2="361.30" stroke="#000" stroke-width="1.8" />
<line x1="235.90" y1="360.50" x2="239.30" y2="360.50" stroke="#000" stroke-width="1.25" />
<line x1="235.90" y1="337.60" x2="239.30" y2="337.60" stroke="#000" stroke-width="1.25" />
<line x1="235.90" y1="314.70" x2="239.30" y2="314.70" stroke="#000" stroke-width="1.25" />
<line x1="235.90" y1="291.80" x2="239.30" y2="291.80" stroke="#000" stroke-width="1.25" />
<line x1="235.90" y1="268.90" x2="239.30" y2="268.90" stroke="#000" stroke-width="1.25" />
<text x="235.30" y="363.20" font-size="7.6" text-anchor="end" fill="#222" >0</text>
<text x="235.30" y="340.30" font-size="7.6" text-anchor="end" fill="#222" >5</text>
<text x="235.30" y="317.40" font-size="7.6" text-anchor="end" fill="#222" >10</text>
<text x="235.30" y="294.50" font-size="7.6" text-anchor="end" fill="#222" >15</text>
<text x="235.30" y="271.60" font-size="7.6" text-anchor="end" fill="#222" >20</text>
<line x1="238.50" y1="360.50" x2="331.30" y2="360.50" stroke="#000" stroke-width="1.8" />
<line x1="239.30" y1="360.50" x2="239.30" y2="363.10" stroke="#000" stroke-width="1.1" />
<text x="239.30" y="372.80" font-size="7.6" text-anchor="middle" fill="#222" >0</text>
<line x1="262.20" y1="360.50" x2="262.20" y2="363.10" stroke="#000" stroke-width="1.1" />
<text x="262.20" y="372.80" font-size="7.6" text-anchor="middle" fill="#222" >5</text>
<line x1="285.10" y1="360.50" x2="285.10" y2="363.10" stroke="#000" stroke-width="1.1" />
<text x="285.10" y="372.80" font-size="7.6" text-anchor="middle" fill="#222" >10</text>
<line x1="308.00" y1="360.50" x2="308.00" y2="363.10" stroke="#000" stroke-width="1.1" />
<text x="308.00" y="372.80" font-size="7.6" text-anchor="middle" fill="#222" >15</text>
<line x1="330.90" y1="360.50" x2="330.90" y2="363.10" stroke="#000" stroke-width="1.1" />
<text x="330.90" y="372.80" font-size="7.6" text-anchor="middle" fill="#222" >20</text>
<text x="288.9" y="382.6" font-size="7.6" text-anchor="middle" fill="#333" textLength="71.9" lengthAdjust="spacingAndGlyphs">log<tspan font-size="62%" dy="1.8">2</tspan><tspan dy="-1.8"> promoter activity</tspan></text>
<text x="288.90" y="392.80" font-size="7.7" text-anchor="middle" fill="#333" >in glucose [A.U.]</text>
<text transform="translate(211.0,309.3) rotate(-90)" x="0" y="2.6" font-size="7.6" text-anchor="middle" fill="#333" textLength="71.9" lengthAdjust="spacingAndGlyphs">log<tspan font-size="62%" dy="1.8">2</tspan><tspan dy="-1.8"> promoter activity</tspan></text>
<text transform="translate(221.5,309.3) rotate(-90)" x="0" y="2.6" font-size="7.5" text-anchor="middle" fill="#333">in citrate [A.U.]</text>
<text x="264.20" y="282.20" font-size="6.9" text-anchor="middle" fill="#333" >RS20775</text>
<line x1="262.60" y1="286.00" x2="265.26" y2="293.04" stroke="#222" stroke-width="1.0" />
<path d="M266.60,296.60 L263.12,293.32 L265.43,293.51 L267.05,291.84 Z" fill="#222"/>
<text x="302.50" y="334.90" font-size="6.9" text-anchor="start" fill="#333" >RS06235</text>
<line x1="301.60" y1="334.60" x2="295.10" y2="339.20" stroke="#222" stroke-width="1.0" />
<path d="M292.00,341.40 L294.30,337.20 L294.69,339.49 L296.72,340.63 Z" fill="#222"/>
<text x="314.30" y="350.90" font-size="6.9" text-anchor="start" fill="#333" >RS06240</text>
<line x1="312.40" y1="348.40" x2="307.40" y2="348.40" stroke="#222" stroke-width="1.0" />
<path d="M303.60,348.40 L307.90,346.30 L306.90,348.40 L307.90,350.50 Z" fill="#222"/>
<text transform="translate(348.00,258.80) scale(0.84,1)" font-size="10.2" font-weight="bold" fill="#000" stroke="#000" stroke-width="0.3">H</text>
<path d="M383.00,356.18 L388.00,350.57 L393.50,345.67 L398.70,341.68 L404.00,337.22 L409.00,332.03 L416.00,323.36 L422.00,316.10 L430.00,307.61 L438.00,300.10 L446.00,293.24 L450.00,289.77 L455.50,285.31 L457.50,283.92 L457.50,284.72 L455.50,287.31 L450.00,293.77 L446.00,298.24 L438.00,307.30 L430.00,316.01 L422.00,325.10 L416.00,332.56 L409.00,341.23 L404.00,346.62 L398.70,351.08 L393.50,354.67 L388.00,358.17 L383.00,361.18 Z" fill="#9A9A9A"/>
<path transform="scale(.1)" d="M3938 3546h1m40-134h1m252-161h1m232-261h1m-398 344h1m-237 216h1m411-422h1m-376 388h1m475-381h1m-512 485h1m356-331h1m65-69h1m-77-15h1m265-263h1m-289 292h1m50 32h1m-10-89h1m256-189h1m52-53h1m-555 608h1m587-651h1m-585 537h1m369-290h1m-43-57h1m-32 128h1m-412 321h1m576-607h1m111-60h1m12-44h1m-125 205h1m143-162h1m-556 521h1m231-154h1m-242 269h1m-9-97h1m431-379h1m110 3h1m-714 565h1m341-373h1m-290 278h1m634-640h1m-273 421h1m-95 74h1m-330 255h1m175-204h1m-120 187h1m-30-79h1m555-584h1m-557 605h1m588-516h1m-119 42h1m199-97h1m-170 151h1m96-177h1m99-146h1m-288 463h1m150-282h1m-285 402h1m355-467h1m-290 515h1m192-343h1m-57 52h1m-407 327h1m640-530h1m-91-16h1m66-72h1m-323 319h1m-182 340h1m472-535h1m-232 232h1m170-196h1m-131 55h1m-497 562h1m683-687h1m-230 142h1m-388 547h1m128-236h1m275-207h1m157-246h1m43-38h1m-48 111h1m-456 398h1m454-407h1m-545 484h1m536-470h1m-360 414h1m59-16h1m-82 46h1m82-42h1m-160 4h1m147-163h1m101-7h1m-353 339h1m521-611h1m-592 579h1m405-408h1m-52 243h1m248-425h1m-40 147h1m-154 37h1m-11 115h1m123-136h1m-160 12h1m-366 434h1m550-583h1m-370 556h1m464-555h1m-431 485h1m303-303h1m-481 451h1m607-709h1m-587 582h1m714-617h1m-766 667h1m221-196h1m292-228h1m-193 111h1m36-124h1m-371 466h1m632-513h1m-493 374h1m579-592h1m-127 97h1m-359 412h1m124-42h1m355-412h1m-523 591h1m477-537h1m-191 111h1m-348 365h1m593-529h1m-598 637h1m225-237h1m-308 211h1m504-436h1m-422 356h1m-49 48h1m103-90h1m106-2h1m-286 235h1m641-652h1m-432 390h1m148 13h1m138-337h1m-438 542h1m573-589h1m-655 666h1m22-39h1m271-335h1m43-48h1m-213 109h1m165-162h1m347-283h1m-283 415h1m207-242h1m144-156h1m-408 254h1m-260 341h1m321-322h1m-202 392h1m296-395h1m-469 356h1m617-519h1m-433 315h1m-133 179h1m654-592h1m-480 542h1m-231 79h1m651-569h1m-73 5h1m-78 291h1m-358 344h1m149-217h1m57-78h1m62-71h1m-400 303h1m442-461h1m-89 259h1m339-489h1m-70 65h1m-298 195h1m-5 72h1m-246 249h1m45-14h1m40-79h1m553-498h1m-554 694h1m560-705h1m-640 627h1m554-560h1m-123 114h1m-207 213h1m167-217h1m-117 120h1m-84 252h1m11-13h1m322-469h1m-173 175h1m233-205h1m-185 256h1m-265 205h1m551-505h1m-465 404h1m-416 336h1m109-36h1m661-614h1m-330 380h1m-325 221h1m-86 37h1m428-212h1m278-439h1m-579 663h1m264-252h1m220-418h1m-6 172h1m-565 534h1m235-153h1m413-541h1m-363 374h1m239-175h1m-193 215h1m-12 14h1m369-470h1m-137 200h1m17-161h1m157-33h1m-209 237h1m-85 85h1m334-441h1m-394 522h1m66-235h1m6 47h1m62-65h1m-256 285h1m174-205h1m-279 308h1m393-268h1m37-116h1m41-42h1m51-102h1m26 12h1m-474 435h1m471-469h1m-174 104h1m-479 527h1m283-284h1m264-200h1m-265 191h1m429-249h1m-642 600h1m340-386h1m-34 50h1m125-152h1m-281 339h1m200-353h1m124-113h1m-555 639h1m-60 46h1m328-290h1m245-278h1m-424 328h1m-10 142h1m101-194h1m94-126h1m7-6h1m-5 111h1m35-178h1m-198 261h1m544-516h1m-706 653h1m361-262h1m129-151h1m-430 356h1m473-403h1m-335 276h1m-178 246h1m158-124h1m459-570h1m-219 196h1m-175 312h1m-101 91h1m149-271h1m-304 378h1m337-307h1m129-158h1m-271 192h1m472-461h1m-365 287h1m-94 179h1m396-418h1m55-4h1m-61 70h1m-492 620h1m-142-51h1m386-282h1m-212 123h1m84 32h1m112-256h1m271-279h1m-226 359h1m-380 348h1m251-323h1m235-255h1m74-72h1m-478 482h1m499-503h1m-454 578h1m-172 125h1m724-750h1m-492 421h1m499-419h1m-290 218h1m-297 436h1m229-252h1m-414 394h1m575-580h1m10-29h1m-44-52h1m-345 547h1m324-416h1m-245 277h1m74-198h1m-48 167h1m391-453h1m-600 543h1m542-473h1m-491 420h1m658-606h1m-687 636h1m136-19h1m-60 60h1m297-344h1m-511 434h1m753-700h1m-532 606h1m160-340h1m159-32h1m213-246h1m-552 630h1m468-596h1m-433 563h1m-70 60h1m-111-76h1m240-152h1m377-394h1m-651 651h1m711-706h1m-326 297h1m-60 182h1m-121 22h1m478-481h1m-617 606h1m399-318h1m-51 55h1m-426 348h1m240-104h1m202-255h1m303-379h1m-138 115h1m-416 540h1m529-597h1m-473 549h1m-189 47h1m367-369h1m-297 415h1m343-471h1m-326 458h1m460-514h1m-25 26h1m-413 361h1m-122 106h1m48 61h1m634-726h1m-487 592h1m417-451h1m-249 270h1m326-330h1m-199 170h1m-241 322h1m127-198h1m-5-8h1m-274 173h1m209-96h1m-240 64h1m386-319h1m-270 408h1m-143 22h1m262-276h1m-196 213h1m-176 229h1m689-701h1m-199 113h1m-437 554h1m174-243h1m-193 174h1m440-450h1m239-184h1m-484 562h1m439-564h1m-186 266h1m238-279h1m-5 52h1m-645 645h1m479-498h1m68-58h1m-373 299h1m57 34h1m95-211h1m-220 149h1m116 81h1m-162 52h1m621-581h1m-546 637h1m413-549h1m-7 81h1m-493 420h1m128-25h1m-230 197h1m263-216h1m12-135h1m114-44h1m-88-19h1m363-319h1m-549 548h1m200-223h1m-38 48h1m25 64h1m370-450h1m-150 119h1m-410 435h1m-145 126h1m542-550h1m-387 412h1m370-309h1m-449 366h1m421-324h1m97-191h1m-535 521h1m247-235h1m-69 192h1m307-445h1m92 32h1m-369 365h1m-148 156h1m216-241h1m-183 108h1m520-496h1m-492 576h1m-231 138h1m441-611h1m30 183h1m110-201h1m34 48h1m-117 172h1m-243 135h1m49 37h1m400-446h1m-177 195h1m-541 457h1m363-366h1m25 71h1m-386 295h1m136-142h1m563-509h1m-289 207h1m-167 321h1m455-527h1m-326 254h1m-118 135h1m260-153h1m-432 307h1m382-243h1m3-30h1m-170 73h1m320-335h1m-238 337h1m1-4h1m330-380h1m-556 706h1m161-363h1m132-40h1m-249 179h1m399-427h1m-466 445h1m397-299h1m70-75h1m-100 108h1m-20 18h1m-388 297h1m228-217h1m64-81h1m122-24h1m175-111h1m34-132h1m-115 130h1m120-142h1m-783 713h1m72 30h1m342-318h1m262-362h1m-413 538h1m290-432h1m-257 276h1m440-400h1m-75 87h1m-532 572h1m46-34h1m445-567h1m-436 453h1m233-259h1m207-294h1m-607 720h1m654-678h1m0 73h1m58 51h1m-170 66h1m-325 413h1m413-519h1m-661 611h1m399-420h1m150-63h1m-191 218h1m-20 24h1m-255 145h1m270-317h1m-87 261h1m-218 163h1m549-629h1m-405 427h1m-47-31h1m45 30h1m-183 204h1m240-264h1m328-233h1m-88 56h1m-144 62h1m-184 293h1m-24 23h1m-131 40h1m751-737h1m-157 292h1m-206 134h1m95 12h1m-186-25h1m55 54h1m99-121h1m89-218h1m-104 226h1m-440 422h1m606-602h1m-349 396h1m232-266h1m166-134h1m-237 108h1m324-284h1m-704 746h1m85-170h1m480-398h1m-91 6h1m-291 420h1m-114-2h1m-111 95h1m417-416h1m-76 180h1m221-325h1m-273 402h1m43-62h1m407-425h1m-558 590h1m-57 43h1m181-107h1m209-407h1m-352 378h1m-156 79h1m311-321h1m-67 262h1m475-553h1m-370 309h1m318-253h1m-636 565h1m450-361h1m-515 425h1m10 74h1m203-256h1m65 40h1m-283 220h1m98-163h1m-31-80h1m580-460h1m-5-1h1m-369 478h1m-31 42h1m-254 167h1m282-308h1m399-364h1m-597 539h1m104-84h1m542-542h1m-443 547h1m-74 82h1" stroke="#9A9A9A" stroke-width="9.0" stroke-linecap="round" fill="none" opacity="1.0"/>
<path transform="scale(.1)" d="M3987 3351h1m372-425h1m-365 390h1m462-441h1m-349 340h1m92-105h1m154-139h1m-379 367h1m400-320h1m-414 395h1m278-316h1m-402 344h1m140-41h1m273-294h1m77-166h1m-348 445h1m35-139h1m242-143h1m-93 62h1m183-157h1m-522 410h1m-22 50h1m425-390h1m176-107h1m-428 414h1m314-306h1m34-119h1m-411 443h1m429-425h1m-220 231h1m233-213h1m-126 115h1m-356 378h1m92-100h1m366-386h1m-54 24h1m-195 216h1m-132 124h1m1-44h1m446-355h1m-402 403h1m56-152h1m277-245h1m-376 340h1m-60 140h1m187-183h1m159-222h1m-231 258h1m95-21h1m-80 20h1m-45 35h1m374-346h1m-99 32h1m-387 416h1m104-208h1m397-271h1m-341 321h1m-30-2h1m146-223h1m49 73h1m37-94h1m10-10h1m-135 58h1m164-161h1m-335 364h1m259-115h1m90-229h1m74-87h1m-213 381h1m-78-13h1m5-60h1m-137 161h1m-3 66h1m339-339h1m42-28h1m-292 276h1m167-300h1m-143 143h1m117-13h1m-145 92h1m-103 45h1m76 40h1m-236 215h1m407-349h1m-193 137h1m367-326h1m21-69h1m-532 517h1m404-331h1m2-115h1m-222 285h1m-244 161h1m256-246h1m-68 118h1m392-377h1m-408 439h1m-43 69h1m365-423h1m-97 84h1m165-151h1m-256 227h1m-129 98h1m-92 125h1m-102 98h1m424-435h1m-335 340h1m247-242h1m211-169h1m-51 6h1m-155 83h1" stroke="#9A9A9A" stroke-width="8.4" stroke-linecap="round" fill="none" opacity="1.0"/>
<path transform="scale(.1)" d="M4547 2811h1m36-24h1m41-49h1m30-25h1m-56 37h1m35 49h1" stroke="#9A9A9A" stroke-width="9.0" stroke-linecap="round" fill="none" opacity="1.0"/>
<circle cx="407.9" cy="292.9" r="1.2" fill="#F2401E"/>
<circle cx="422.6" cy="303.4" r="1.2" fill="#F2401E"/>
<circle cx="418" cy="308" r="1.2" fill="#F2401E"/>
<circle cx="408.4" cy="310.7" r="1.2" fill="#F2401E"/>
<circle cx="404.2" cy="321.9" r="1.2" fill="#F2401E"/>
<circle cx="402.9" cy="323.6" r="1.2" fill="#F2401E"/>
<circle cx="403.3" cy="326" r="1.2" fill="#F2401E"/>
<circle cx="407.9" cy="332.9" r="1.2" fill="#F2401E"/>
<circle cx="405.3" cy="335.1" r="1.2" fill="#F2401E"/>
<circle cx="404.8" cy="337.9" r="1.2" fill="#F2401E"/>
<circle cx="451.6" cy="290.2" r="1.2" fill="#1446F0"/>
<circle cx="447.3" cy="309.8" r="1.2" fill="#1446F0"/>
<circle cx="435" cy="319.5" r="1.2" fill="#1446F0"/>
<circle cx="414.5" cy="325" r="1.2" fill="#1446F0"/>
<circle cx="457.4" cy="322.7" r="1.2" fill="#1446F0"/>
<circle cx="441.5" cy="326.9" r="1.2" fill="#1446F0"/>
<circle cx="431.4" cy="326.3" r="1.2" fill="#1446F0"/>
<circle cx="419.4" cy="330.9" r="1.2" fill="#1446F0"/>
<circle cx="421.8" cy="330.9" r="1.2" fill="#1446F0"/>
<circle cx="431" cy="331.5" r="1.2" fill="#1446F0"/>
<circle cx="420.7" cy="335.7" r="1.2" fill="#1446F0"/>
<circle cx="425.5" cy="338.3" r="1.2" fill="#1446F0"/>
<circle cx="428.1" cy="337.9" r="1.2" fill="#1446F0"/>
<circle cx="430.5" cy="338.8" r="1.2" fill="#1446F0"/>
<circle cx="441.5" cy="337.5" r="1.2" fill="#1446F0"/>
<circle cx="418.9" cy="340.1" r="1.2" fill="#1446F0"/>
<circle cx="423.1" cy="342.5" r="1.2" fill="#1446F0"/>
<circle cx="414.9" cy="342.5" r="1.2" fill="#1446F0"/>
<circle cx="431.9" cy="343" r="1.2" fill="#1446F0"/>
<circle cx="420" cy="344.3" r="1.2" fill="#1446F0"/>
<circle cx="412.7" cy="345.2" r="1.2" fill="#1446F0"/>
<circle cx="409.7" cy="347.1" r="1.2" fill="#1446F0"/>
<circle cx="413.9" cy="348" r="1.2" fill="#1446F0"/>
<circle cx="401.7" cy="349.8" r="1.2" fill="#1446F0"/>
<circle cx="403.5" cy="351.1" r="1.2" fill="#1446F0"/>
<circle cx="432.8" cy="351.7" r="1.2" fill="#1446F0"/>
<circle cx="402.4" cy="355.3" r="1.2" fill="#1446F0"/>
<circle cx="408.8" cy="355.3" r="1.2" fill="#1446F0"/>
<circle cx="410.3" cy="356.2" r="1.2" fill="#1446F0"/>
<line x1="381.50" y1="268.60" x2="381.50" y2="361.20" stroke="#000" stroke-width="1.8" />
<line x1="378.90" y1="360.40" x2="381.50" y2="360.40" stroke="#000" stroke-width="1.1" />
<text x="377.50" y="363.10" font-size="7.6" text-anchor="end" fill="#222" >0</text>
<line x1="378.90" y1="329.90" x2="381.50" y2="329.90" stroke="#000" stroke-width="1.1" />
<text x="377.50" y="332.60" font-size="7.6" text-anchor="end" fill="#222" >5</text>
<line x1="378.90" y1="299.40" x2="381.50" y2="299.40" stroke="#000" stroke-width="1.1" />
<text x="377.50" y="302.10" font-size="7.6" text-anchor="end" fill="#222" >10</text>
<line x1="378.90" y1="268.90" x2="381.50" y2="268.90" stroke="#000" stroke-width="1.1" />
<text x="377.50" y="271.60" font-size="7.6" text-anchor="end" fill="#222" >15</text>
<line x1="380.70" y1="360.40" x2="473.40" y2="360.40" stroke="#000" stroke-width="1.8" />
<line x1="381.50" y1="360.40" x2="381.50" y2="363.00" stroke="#000" stroke-width="1.1" />
<text x="381.50" y="372.80" font-size="7.6" text-anchor="middle" fill="#222" >0</text>
<line x1="412.00" y1="360.40" x2="412.00" y2="363.00" stroke="#000" stroke-width="1.1" />
<text x="412.00" y="372.80" font-size="7.6" text-anchor="middle" fill="#222" >5</text>
<line x1="442.50" y1="360.40" x2="442.50" y2="363.00" stroke="#000" stroke-width="1.1" />
<text x="442.50" y="372.80" font-size="7.6" text-anchor="middle" fill="#222" >10</text>
<line x1="473.00" y1="360.40" x2="473.00" y2="363.00" stroke="#000" stroke-width="1.1" />
<text x="473.00" y="372.80" font-size="7.6" text-anchor="middle" fill="#222" >15</text>
<text x="431.00" y="382.20" font-size="7.8" text-anchor="middle" fill="#333" >RNA expression in glucose</text>
<text x="427.3" y="391.9" font-size="7.8" text-anchor="middle" fill="#333">[log<tspan font-size="62%" dy="1.8">2</tspan><tspan dy="-1.8">(CPM+1)]</tspan></text>
<text transform="translate(353.6,318.2) rotate(-90)" x="0" y="2.7" font-size="7.8" text-anchor="middle" fill="#333">RNA expression in citrate</text>
<text transform="translate(363.8,318.2) rotate(-90)" x="0" y="2.7" font-size="7.6" text-anchor="middle" fill="#333">[log<tspan font-size="62%" dy="1.8">2</tspan><tspan dy="-1.8">(CPM+1)]</tspan></text>
<text x="405.40" y="275.80" font-size="6.9" text-anchor="middle" fill="#333" >RS20775</text>
<line x1="403.80" y1="278.70" x2="406.07" y2="285.97" stroke="#222" stroke-width="1.0" />
<path d="M407.20,289.60 L403.91,286.12 L406.22,286.45 L407.92,284.87 Z" fill="#222"/>
<text x="471.80" y="317.90" font-size="6.9" text-anchor="start" fill="#333" >RS06240</text>
<line x1="470.20" y1="316.40" x2="464.25" y2="320.02" stroke="#222" stroke-width="1.0" />
<path d="M461.00,322.00 L463.58,317.97 L463.82,320.28 L465.76,321.56 Z" fill="#222"/>
<text x="454.90" y="339.60" font-size="6.9" text-anchor="start" fill="#333" >RS06235</text>
<line x1="453.30" y1="337.10" x2="448.30" y2="337.10" stroke="#222" stroke-width="1.0" />
<path d="M444.50,337.10 L448.80,335.00 L447.80,337.10 L448.80,339.20 Z" fill="#222"/>
<text transform="translate(499.60,258.80) scale(0.84,1)" font-size="10.2" font-weight="bold" fill="#000" stroke="#000" stroke-width="0.3">I</text>
<line x1="578.40" y1="267.60" x2="578.40" y2="360.40" stroke="#AAAAAA" stroke-width="0.6" />
<line x1="531.50" y1="314.30" x2="625.00" y2="314.30" stroke="#AAAAAA" stroke-width="0.6" />
<path d="M586.12,311.89 L586.69,312.74 L587.01,313.60 L587.03,314.45 L586.72,315.29 L586.11,316.10 L585.22,316.88 L584.14,317.62 L582.94,318.32 L581.70,318.96 L580.49,319.55 L579.35,320.06 L578.29,320.48 L577.31,320.80 L576.38,321.00 L575.47,321.06 L574.55,320.97 L573.62,320.71 L572.70,320.27 L571.83,319.67 L571.08,318.91 L570.51,318.00 L570.19,316.97 L570.17,315.85 L570.48,314.68 L571.09,313.50 L571.98,312.35 L573.06,311.28 L574.26,310.31 L575.50,309.50 L576.71,308.85 L577.85,308.40 L578.91,308.15 L579.89,308.09 L580.82,308.23 L581.73,308.54 L582.65,309.00 L583.58,309.60 L584.50,310.30 L585.37,311.07 Z" fill="#9A9A9A"/>
<path transform="scale(.1)" d="M5799 3204h1m76-79h1m-178 16h1m27 69h1m-12-12h1m-20-27h1m175 20h1m-68-132h1m5 15h1m0 7h1m88 24h1m-115-29h1m33 3h1m-31 127h1m-38 14h1m45-14h1m-37-119h1m45-7h1m22 103h1m18-85h1m-61-18h1m-64 134h1m34-134h1m-88 97h1m144 17h1m48-48h1m2-19h1m-123-42h1m-36 119h1m90-7h1m-56 20h1m45-11h1m-9 5h1m-44-130h1m74 111h1m-45-118h1m-70 56h1m-13 25h1m141 26h1m-109-77h1m64-24h1m-13-4h1m-93 74h1m17-20h1m136 42h1m-141-50h1m112 74h1m-93 17h1m125-107h1m-113-6h1m127 116h1m-181-113h1m40 112h1m-29-26h1m144-11h1m-151-35h1m-5 39h1m98-105h1m32 7h1m-111 38h1m-15 12h1m44-36h1m69-21h1m-28 4h1m-36 135h1m-91-76h1m198-23h1m-100 102h1m-61-94h1m175 14h1m-170 87h1m17-115h1m32 127h1m57-46h1m29-91h1m23 36h1m-196 53h1m59-91h1m-54 105h1m188-64h1m-141-63h1m-8 138h1m117-41h1m-23 13h1m-42 17h1m-55-122h1m62-3h1m45 18h1m-101 115h1m66-134h1m-84 123h1m30-127h1m22-7h1m-84 108h1m142-83h1m-26-10h1m-82 17h1m112-4h1m-120 15h1m-10 93h1m91-125h1m37 97h1m-148 14h1m153-18h1m26-39h1m-148-30h1m-23 18h1m160 30h1m-48 42h1m45-33h1m-27 69h1m-146-70h1m6 40h1m158-82h1m-132 108h1m99-137h1m-38-7h1m-23 3h1m91 75h1m-28-61h1m11 8h1m-92-16h1m-31 10h1m41-19h1m-52 124h1m71-127h1m54 98h1m8 21h1m-30-108h1m-133 60h1m32 67h1m0 0h1m-28-73h1m106-65h1m-101 52h1m20 84h1m68-136h1m-13 128h1m62-96h1m-141 15h1m178 29h1m-24-24h1m-159 75h1m154-44h1m4-11h1m-136 63h1m-36-36h1m152-64h1m-132-4h1m0-1h1m64 102h1m77-83h1m-9 43h1m-86-92h1m81 29h1m-162 39h1m176 32h1m-209-37h1m56 62h1m80-124h1m42 99h1m14-83h1m-161 98h1m134-100h1m-138 66h1m-2-8h1m112 52h1m-148-47h1m175-59h1m-102 138h1m-37-86h1m71-69h1m-45 163h1m60-161h1m-17-56h1m39 57h1m33 7h1m-30-12h1m-7 124h1m44-28h1m-116 43h1m-51 8h1m44-129h1m128 32h1m0-10h1m-47-28h1m-133 84h1m95-101h1m-79 49h1m95 78h1m59-37h1m-133-63h1m152 61h1m-44 25h1m-160-73h1m78 102h1m-17 0h1m5-155h1m118 82h1m-117-50h1m20 136h1m49-136h1m-92 119h1m46 0h1m-53 4h1m3-109h1m-34 23h1m148-40h1m21 55h1m-112 73h1m81-120h1m-146 62h1m4 31h1m86-117h1m-49 24h1m127 23h1m-122 99h1m34-144h1m-68 38h1m52-61h1m-67 143h1m6-78h1m155 31h1m-48-65h1m-36 128h1m-64-103h1m21 109h1m56-136h1m-117 79h1m76 57h1m49-138h1m-36 130h1m-71-89h1m134 64h1m-43-105h1m54 121h1m-67 8h1m-2-2h1m52-20h1m-118-70h1m10-10h1m55-25h1m-128 52h1m214-15h1m-73 112h1m-71-131h1m-36 33h1m167 24h1m-12-41h1m-148 1h1m15-13h1m-36 49h1m-27 5h1m83 63h1m118-96h1m-167 18h1m100-61h1m9 115h1m26-100h1m-130 24h1m100 81h1m30-95h1m-60 103h1m-79-86h1m96-50h1m-97 60h1m-15 42h1m147-73h1m26 48h1m-121 78h1m-6-129h1m-10-1h1m31-11h1m38 109h1m19-104h1m-88 127h1m-47-61h1m162 8h1m14-25h1m-68 62h1m-85-95h1m76 114h1m19-27h1m-122-52h1m144 34h1m26-16h1m-33 24h1m-140-78h1m26 1h1m66-47h1m48 116h1m10-76h1m19 44h1m-173 50h1m68 24h1m46-136h1m-107 111h1m10-117h1m-9 129h1m24-103h1m127 54h1m-82-110h1m-79 143h1m23 26h1m-5 7h1m88-144h1m-39 132h1m87-51h1m-19 12h1m10-5h1" stroke="#9A9A9A" stroke-width="9.0" stroke-linecap="round" fill="none" opacity="1.0"/>
<path transform="scale(.1)" d="M5872 3348h1m-112-7h1m-36-15h1m127-37h1m-113-87h1m14 149h1m-8-168h1m-46 113h1m42-11h1m-81-33h1m52-62h1m-1 81h1m71 11h1m-45 82h1m-16-17h1m62 39h1m57 6h1m-3-96h1m-52 53h1m1-24h1m-49-91h1m108 28h1m-72-57h1m48 134h1m-90 40h1m86-169h1m-56 82h1m27-2h1m-26 68h1m-59-69h1m54-77h1m-8 69h1m20 65h1m38 21h1m-79-43h1m-34 29h1m-17-37h1m64-111h1m-1 154h1m52-111h1m-10-32h1m-28-25h1m19 208h1m-19-31h1m-62-129h1m20 148h1m56-62h1m-22 5h1m44-60h1m-96-26h1m-3 27h1m-59-65h1m10 106h1m-7-116h1m74 128h1m63-94h1m-91 146h1m60-60h1m-65-18h1m60 69h1m56-39h1m-126 64h1m119-180h1m-58 26h1m2-10h1m-69 64h1m130-1h1m-111 33h1m49-44h1m4-42h1" stroke="#9A9A9A" stroke-width="8.4" stroke-linecap="round" fill="none" opacity="1.0"/>
<path transform="scale(.1)" d="M5652 3100h1m29-73h1m22-24h1m17 92h1m16-55h1m-112-9h1m52 42h1m29-68h1m-1 54h1m35 8h1m-70-66h1m-36 85h1m95 27h1m53-26h1m-84-54h1m46-21h1m-120 24h1m65-9h1m-45 44h1m191-64h1m-37 16h1m-117 88h1m7-10h1m73-101h1m-29 1h1" stroke="#9A9A9A" stroke-width="8.4" stroke-linecap="round" fill="none" opacity="1.0"/>
<circle cx="580.9" cy="289.8" r="0.5" fill="#9A9A9A"/>
<line x1="537.80" y1="331.90" x2="607.50" y2="303.40" stroke="#999" stroke-width="0.6" stroke-dasharray="1.6,1.0"/>
<line x1="537.80" y1="346.40" x2="607.50" y2="292.10" stroke="#111" stroke-width="1.1" />
<circle cx="587.2" cy="303.5" r="1.2" fill="#F2401E"/>
<circle cx="588.6" cy="302.8" r="1.2" fill="#F2401E"/>
<circle cx="590.8" cy="302.9" r="1.2" fill="#F2401E"/>
<circle cx="591.8" cy="304.6" r="1.2" fill="#F2401E"/>
<circle cx="587.5" cy="305.8" r="1.2" fill="#F2401E"/>
<circle cx="588.3" cy="311.8" r="1.2" fill="#F2401E"/>
<circle cx="589.6" cy="312.5" r="1.2" fill="#F2401E"/>
<circle cx="588.8" cy="314.6" r="1.2" fill="#F2401E"/>
<circle cx="607.5" cy="287.3" r="1.2" fill="#F2401E"/>
<circle cx="594.9" cy="298.9" r="1.2" fill="#F2401E"/>
<circle cx="591.6" cy="303.4" r="1.2" fill="#F2401E"/>
<circle cx="590.1" cy="303.8" r="1.2" fill="#F2401E"/>
<circle cx="588.1" cy="304.7" r="1.2" fill="#F2401E"/>
<circle cx="589.1" cy="305.7" r="1.2" fill="#F2401E"/>
<circle cx="588.1" cy="312.5" r="1.2" fill="#F2401E"/>
<circle cx="589.1" cy="313.4" r="1.2" fill="#F2401E"/>
<circle cx="590.6" cy="304.3" r="1.2" fill="#F2401E"/>
<circle cx="561.6" cy="318.5" r="1.2" fill="#1446F0"/>
<circle cx="562.8" cy="330.5" r="1.2" fill="#1446F0"/>
<circle cx="564.0" cy="331.7" r="1.2" fill="#1446F0"/>
<circle cx="566.5" cy="329.0" r="1.2" fill="#1446F0"/>
<circle cx="568.8" cy="318.5" r="1.2" fill="#1446F0"/>
<circle cx="567.6" cy="316.8" r="1.2" fill="#1446F0"/>
<circle cx="560.5" cy="323.2" r="1.2" fill="#1446F0"/>
<circle cx="562.4" cy="323.0" r="1.2" fill="#1446F0"/>
<circle cx="565.0" cy="318.8" r="1.2" fill="#1446F0"/>
<circle cx="568.0" cy="327.5" r="1.2" fill="#1446F0"/>
<circle cx="561.5" cy="321.5" r="1.2" fill="#1446F0"/>
<circle cx="563.0" cy="320.5" r="1.2" fill="#1446F0"/>
<circle cx="564.5" cy="322.0" r="1.2" fill="#1446F0"/>
<circle cx="562.0" cy="325.5" r="1.2" fill="#1446F0"/>
<circle cx="563.5" cy="328.5" r="1.2" fill="#1446F0"/>
<circle cx="561.8" cy="327.0" r="1.2" fill="#1446F0"/>
<circle cx="565.2" cy="323.5" r="1.2" fill="#1446F0"/>
<circle cx="566.5" cy="325.8" r="1.2" fill="#1446F0"/>
<circle cx="563.0" cy="326.0" r="1.2" fill="#1446F0"/>
<circle cx="567.5" cy="321.0" r="1.2" fill="#1446F0"/>
<circle cx="568.4" cy="311.5" r="1.2" fill="#1446F0"/>
<circle cx="565.9" cy="313.4" r="1.2" fill="#1446F0"/>
<circle cx="567.8" cy="320.2" r="1.2" fill="#1446F0"/>
<circle cx="566.8" cy="322.2" r="1.2" fill="#1446F0"/>
<circle cx="563.9" cy="323.1" r="1.2" fill="#1446F0"/>
<circle cx="562" cy="324.1" r="1.2" fill="#1446F0"/>
<circle cx="564.9" cy="325.1" r="1.2" fill="#1446F0"/>
<circle cx="562.6" cy="326.6" r="1.2" fill="#1446F0"/>
<circle cx="565.9" cy="327.4" r="1.2" fill="#1446F0"/>
<circle cx="564.5" cy="329" r="1.2" fill="#1446F0"/>
<circle cx="561" cy="329" r="1.2" fill="#1446F0"/>
<circle cx="563.9" cy="331.3" r="1.2" fill="#1446F0"/>
<circle cx="557.1" cy="334.8" r="1.2" fill="#1446F0"/>
<circle cx="549.8" cy="337.1" r="1.2" fill="#1446F0"/>
<circle cx="537.8" cy="338.3" r="1.2" fill="#1446F0"/>
<circle cx="564.9" cy="340.6" r="1.2" fill="#1446F0"/>
<circle cx="566.8" cy="319.3" r="1.2" fill="#1446F0"/>
<circle cx="563.2" cy="327.8" r="1.2" fill="#1446F0"/>
<circle cx="566.0" cy="324.0" r="1.2" fill="#1446F0"/>
<line x1="531.50" y1="267.00" x2="531.50" y2="361.20" stroke="#000" stroke-width="1.8" />
<line x1="528.90" y1="360.80" x2="531.50" y2="360.80" stroke="#000" stroke-width="1.1" />
<text x="527.50" y="363.50" font-size="7.6" text-anchor="end" fill="#222" >-12</text>
<line x1="528.90" y1="337.50" x2="531.50" y2="337.50" stroke="#000" stroke-width="1.1" />
<text x="527.50" y="340.20" font-size="7.6" text-anchor="end" fill="#222" >-6</text>
<line x1="528.90" y1="314.20" x2="531.50" y2="314.20" stroke="#000" stroke-width="1.1" />
<text x="527.50" y="316.90" font-size="7.6" text-anchor="end" fill="#222" >0</text>
<line x1="528.90" y1="290.90" x2="531.50" y2="290.90" stroke="#000" stroke-width="1.1" />
<text x="527.50" y="293.60" font-size="7.6" text-anchor="end" fill="#222" >6</text>
<line x1="528.90" y1="267.60" x2="531.50" y2="267.60" stroke="#000" stroke-width="1.1" />
<text x="527.50" y="270.30" font-size="7.6" text-anchor="end" fill="#222" >12</text>
<line x1="530.70" y1="360.40" x2="625.00" y2="360.40" stroke="#000" stroke-width="1.8" />
<line x1="531.80" y1="360.40" x2="531.80" y2="363.00" stroke="#000" stroke-width="1.1" />
<text x="531.80" y="372.80" font-size="7.6" text-anchor="middle" fill="#222" >-12</text>
<line x1="555.10" y1="360.40" x2="555.10" y2="363.00" stroke="#000" stroke-width="1.1" />
<text x="555.10" y="372.80" font-size="7.6" text-anchor="middle" fill="#222" >-6</text>
<line x1="578.40" y1="360.40" x2="578.40" y2="363.00" stroke="#000" stroke-width="1.1" />
<text x="578.40" y="372.80" font-size="7.6" text-anchor="middle" fill="#222" >0</text>
<line x1="601.70" y1="360.40" x2="601.70" y2="363.00" stroke="#000" stroke-width="1.1" />
<text x="601.70" y="372.80" font-size="7.6" text-anchor="middle" fill="#222" >6</text>
<line x1="625.00" y1="360.40" x2="625.00" y2="363.00" stroke="#000" stroke-width="1.1" />
<text x="625.00" y="372.80" font-size="7.6" text-anchor="middle" fill="#222" >12</text>
<text x="578.70" y="384.30" font-size="7.85" text-anchor="middle" fill="#333" >promoter activity fold change</text>
<text transform="translate(509.8,319.6) rotate(-90)" x="0" y="2.7" font-size="7.85" text-anchor="middle" fill="#333">RNA expression fold change</text>
<line x1="593.70" y1="330.90" x2="603.30" y2="330.90" stroke="#999" stroke-width="0.6" stroke-dasharray="1.6,1.0"/>
<text x="606.50" y="333.40" font-size="7.4" text-anchor="start" fill="#333" >all (r = 0.46)</text>
<line x1="593.70" y1="344.20" x2="603.30" y2="344.20" stroke="#111" stroke-width="1.1" />
<text x="606.5" y="346.7" font-size="7.4" fill="#333">|log<tspan font-size="62%" dy="1.8">2</tspan><tspan dy="-1.8">FC| &gt; 2.5 (r = 0.91)</tspan></text>
<text transform="translate(20.00,412.60) scale(0.84,1)" font-size="10.2" font-weight="bold" fill="#000" stroke="#000" stroke-width="0.3">J</text>
<text x="46.80" y="423.40" font-size="7.25" text-anchor="start" fill="#333" >Top 1 promoter in citrate</text>
<line x1="69.20" y1="440.70" x2="131.70" y2="440.70" stroke="#444" stroke-width="0.9" />
<line x1="150.00" y1="440.70" x2="156.00" y2="440.70" stroke="#444" stroke-width="0.9" />
<rect x="77.20" y="430.20" width="9.10" height="20.60" fill="#F4B6D2" />
<line x1="77.20" y1="440.70" x2="86.30" y2="440.70" stroke="#8a6a7a" stroke-width="0.9" />
<path d="M86.30,437.90 L98.80,437.90 L98.80,434.75 L107.90,440.60 L98.80,446.45 L98.80,443.30 L86.30,443.30 Z" fill="#16A9E4"/>
<path d="M108.30,437.90 L116.40,437.90 L116.40,434.75 L125.80,440.60 L116.40,446.45 L116.40,443.30 L108.30,443.30 Z" fill="#16A9E4"/>
<path d="M131.70,437.90 L142.70,437.90 L142.70,434.75 L151.50,440.60 L142.70,446.45 L142.70,443.30 L131.70,443.30 Z" fill="#16A9E4"/>
<path d="M154.30,437.90 L165.70,437.90 L165.70,434.75 L174.40,440.60 L165.70,446.45 L165.70,443.30 L154.30,443.30 Z" fill="#16A9E4"/>
<path d="M174.60,437.90 L186.50,437.90 L186.50,434.75 L196.30,440.60 L186.50,446.45 L186.50,443.30 L174.60,443.30 Z" fill="#16A9E4"/>
<line x1="92.30" y1="443.30" x2="92.30" y2="452.80" stroke="#555" stroke-width="0.55" stroke-dasharray="0.9,0.8"/>
<line x1="115.00" y1="443.30" x2="123.00" y2="472.60" stroke="#555" stroke-width="0.55" stroke-dasharray="0.9,0.8"/>
<line x1="143.00" y1="443.30" x2="152.00" y2="453.00" stroke="#555" stroke-width="0.55" stroke-dasharray="0.9,0.8"/>
<line x1="163.80" y1="443.30" x2="152.00" y2="453.00" stroke="#555" stroke-width="0.55" stroke-dasharray="0.9,0.8"/>
<text x="75.00" y="460.10" font-size="7.25" text-anchor="middle" fill="#333" >OprD family porin</text>
<text x="75.00" y="468.70" font-size="7.25" text-anchor="middle" fill="#333" >(PS417_RS20775)</text>
<text x="181.90" y="460.30" font-size="7.25" text-anchor="middle" fill="#333" >tripartite tricarboxylate transporter</text>
<text x="135.00" y="481.70" font-size="7.25" text-anchor="middle" fill="#333" >tripartite tricarboxylate transporter</text>
<text x="135.90" y="490.50" font-size="7.25" text-anchor="middle" fill="#333" >substrate binding protein</text>
<text x="135.80" y="499.20" font-size="7.25" text-anchor="middle" fill="#333" >(PS417_RS20780)</text>
<text x="280.40" y="421.90" font-size="7.25" text-anchor="start" fill="#333" >Top 2 promoters in glucose</text>
<line x1="302.10" y1="439.90" x2="470.90" y2="439.90" stroke="#444" stroke-width="0.9" />
<rect x="312.90" y="429.60" width="8.80" height="20.20" fill="#F4B6D2" />
<rect x="341.10" y="429.60" width="8.70" height="20.20" fill="#F4B6D2" />
<line x1="312.90" y1="439.90" x2="321.70" y2="439.90" stroke="#8a6a7a" stroke-width="0.9" />
<line x1="341.10" y1="439.90" x2="349.80" y2="439.90" stroke="#8a6a7a" stroke-width="0.9" />
<path d="M321.70,436.85 L333.10,436.85 L333.10,434.00 L341.50,439.80 L333.10,445.60 L333.10,442.75 L321.70,442.75 Z" fill="#16A9E4"/>
<path d="M349.80,436.85 L362.00,436.85 L362.00,434.00 L371.70,439.80 L362.00,445.60 L362.00,442.75 L349.80,442.75 Z" fill="#16A9E4"/>
<path d="M375.80,436.50 L388.20,436.50 L388.20,433.55 L397.60,439.40 L388.20,445.25 L388.20,442.30 L375.80,442.30 Z" fill="#16A9E4"/>
<path d="M398.00,436.50 L409.70,436.50 L409.70,433.55 L419.00,439.40 L409.70,445.25 L409.70,442.30 L398.00,442.30 Z" fill="#16A9E4"/>
<path d="M419.00,436.50 L431.20,436.50 L431.20,433.55 L440.50,439.40 L431.20,445.25 L431.20,442.30 L419.00,442.30 Z" fill="#16A9E4"/>
<path d="M444.30,436.50 L456.00,436.50 L456.00,433.55 L465.80,439.40 L456.00,445.25 L456.00,442.30 L444.30,442.30 Z" fill="#16A9E4"/>
<line x1="327.80" y1="443.00" x2="323.50" y2="454.00" stroke="#555" stroke-width="0.55" stroke-dasharray="0.9,0.8"/>
<line x1="355.60" y1="443.00" x2="355.60" y2="452.00" stroke="#555" stroke-width="0.55" stroke-dasharray="0.9,0.8"/>
<line x1="392.20" y1="443.00" x2="415.50" y2="451.20" stroke="#555" stroke-width="0.55" stroke-dasharray="0.9,0.8"/>
<line x1="405.00" y1="443.00" x2="415.50" y2="451.20" stroke="#555" stroke-width="0.55" stroke-dasharray="0.9,0.8"/>
<line x1="464.40" y1="440.90" x2="481.90" y2="449.90" stroke="#555" stroke-width="0.55" stroke-dasharray="0.9,0.8"/>
<text x="299.70" y="462.10" font-size="7.25" text-anchor="middle" fill="#333" >sugar isomerase</text>
<text x="299.70" y="470.70" font-size="7.25" text-anchor="middle" fill="#333" >(PS417_RS06235)</text>
<text x="368.90" y="459.90" font-size="7.25" text-anchor="middle" fill="#333" >sugar ABC transporter</text>
<text x="368.90" y="468.50" font-size="7.25" text-anchor="middle" fill="#333" >(PS417_RS06240)</text>
<text x="413.70" y="458.70" font-size="7.25" text-anchor="start" fill="#333" >sugar transporter</text>
<text x="477.80" y="458.40" font-size="7.25" text-anchor="start" fill="#333" >carbohydrate porin</text>
</svg></body></html>
